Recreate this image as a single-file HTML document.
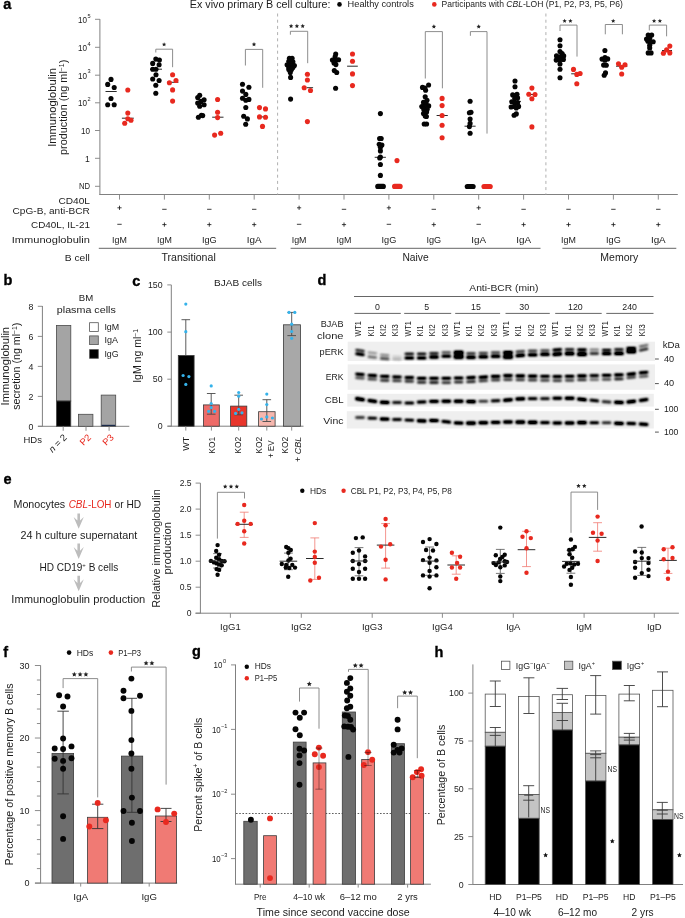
<!DOCTYPE html>
<html><head><meta charset="utf-8"><style>
html,body{margin:0;padding:0;background:#fff;}
svg{display:block;will-change:transform;font-family:"Liberation Sans", sans-serif;}
</style></head><body>
<svg width="685" height="918" viewBox="0 0 685 918">
<rect width="685" height="918" fill="#fff"/>
<text x="3.2" y="9" font-size="14.5" font-weight="bold" fill="#000" stroke="#000" stroke-width="0.35">a</text>
<text x="189.8" y="7.9" font-size="10" text-anchor="start" fill="#1c1c1c" textLength="140.7" lengthAdjust="spacingAndGlyphs">Ex vivo primary B cell culture:</text>
<circle cx="339.5" cy="4.4" r="2.3" fill="#050505"/>
<text x="347.6" y="7.2" font-size="8.6" text-anchor="start" fill="#1c1c1c" textLength="66.2" lengthAdjust="spacingAndGlyphs">Healthy controls</text>
<circle cx="434.3" cy="4.4" r="2.3" fill="#e8291f"/>
<text x="441.6" y="7.2" font-size="8.6" fill="#1c1c1c" textLength="181.3" lengthAdjust="spacingAndGlyphs">Participants with <tspan font-style="italic">CBL</tspan>-LOH (P1, P2, P3, P5, P6)</text>
<line x1="99.9" y1="19.1" x2="99.9" y2="195" stroke="#808080" stroke-width="1" />
<line x1="99.4" y1="194.5" x2="677.8" y2="194.5" stroke="#808080" stroke-width="1" />
<line x1="95" y1="19.3" x2="99.9" y2="19.3" stroke="#808080" stroke-width="0.9" />
<line x1="95" y1="47.3" x2="99.9" y2="47.3" stroke="#808080" stroke-width="0.9" />
<line x1="95" y1="75.2" x2="99.9" y2="75.2" stroke="#808080" stroke-width="0.9" />
<line x1="95" y1="102.8" x2="99.9" y2="102.8" stroke="#808080" stroke-width="0.9" />
<line x1="95" y1="130.5" x2="99.9" y2="130.5" stroke="#808080" stroke-width="0.9" />
<line x1="95" y1="158.3" x2="99.9" y2="158.3" stroke="#808080" stroke-width="0.9" />
<line x1="95" y1="186.3" x2="99.9" y2="186.3" stroke="#808080" stroke-width="0.9" />
<text x="86.9" y="22.6" font-size="8.6" text-anchor="end" fill="#1c1c1c" textLength="9" lengthAdjust="spacingAndGlyphs">10</text>
<text x="87.4" y="17.5" font-size="5.6" text-anchor="start" fill="#1c1c1c">5</text>
<text x="86.9" y="50.6" font-size="8.6" text-anchor="end" fill="#1c1c1c" textLength="9" lengthAdjust="spacingAndGlyphs">10</text>
<text x="87.4" y="45.5" font-size="5.6" text-anchor="start" fill="#1c1c1c">4</text>
<text x="86.9" y="78.5" font-size="8.6" text-anchor="end" fill="#1c1c1c" textLength="9" lengthAdjust="spacingAndGlyphs">10</text>
<text x="87.4" y="73.4" font-size="5.6" text-anchor="start" fill="#1c1c1c">3</text>
<text x="86.9" y="106.1" font-size="8.6" text-anchor="end" fill="#1c1c1c" textLength="9" lengthAdjust="spacingAndGlyphs">10</text>
<text x="87.4" y="101" font-size="5.6" text-anchor="start" fill="#1c1c1c">2</text>
<text x="89.9" y="133.7" font-size="8.6" text-anchor="end" fill="#1c1c1c" textLength="9" lengthAdjust="spacingAndGlyphs">10</text>
<text x="89.9" y="161.5" font-size="8.6" text-anchor="end" fill="#1c1c1c">1</text>
<text x="90.1" y="188.7" font-size="8.4" text-anchor="end" fill="#1c1c1c" textLength="11.1" lengthAdjust="spacingAndGlyphs">ND</text>
<text x="55.5" y="107.5" font-size="10.2" text-anchor="middle" fill="#1c1c1c" textLength="78.7" lengthAdjust="spacingAndGlyphs" transform="rotate(-90 55.5 107.5)">Immunoglobulin</text>
<text x="67.3" y="107.3" font-size="10.2" text-anchor="middle" fill="#1c1c1c" transform="rotate(-90 67.3 107.3)" textLength="95.3" lengthAdjust="spacingAndGlyphs">production (ng ml<tspan dy="-3.5" font-size="6.5">−1</tspan><tspan dy="3.5">)</tspan></text>
<line x1="277.6" y1="13.5" x2="277.6" y2="194.5" stroke="#b0b0b0" stroke-width="1" stroke-dasharray="3,3.2"/>
<line x1="545.9" y1="13.5" x2="545.9" y2="194.5" stroke="#b0b0b0" stroke-width="1" stroke-dasharray="3,3.2"/>
<line x1="119.5" y1="194.5" x2="119.5" y2="199.6" stroke="#808080" stroke-width="0.9" />
<line x1="164.4" y1="194.5" x2="164.4" y2="199.6" stroke="#808080" stroke-width="0.9" />
<line x1="209.3" y1="194.5" x2="209.3" y2="199.6" stroke="#808080" stroke-width="0.9" />
<line x1="254.2" y1="194.5" x2="254.2" y2="199.6" stroke="#808080" stroke-width="0.9" />
<line x1="299.1" y1="194.5" x2="299.1" y2="199.6" stroke="#808080" stroke-width="0.9" />
<line x1="344" y1="194.5" x2="344" y2="199.6" stroke="#808080" stroke-width="0.9" />
<line x1="388.9" y1="194.5" x2="388.9" y2="199.6" stroke="#808080" stroke-width="0.9" />
<line x1="433.8" y1="194.5" x2="433.8" y2="199.6" stroke="#808080" stroke-width="0.9" />
<line x1="478.7" y1="194.5" x2="478.7" y2="199.6" stroke="#808080" stroke-width="0.9" />
<line x1="523.6" y1="194.5" x2="523.6" y2="199.6" stroke="#808080" stroke-width="0.9" />
<line x1="568.5" y1="194.5" x2="568.5" y2="199.6" stroke="#808080" stroke-width="0.9" />
<line x1="613.4" y1="194.5" x2="613.4" y2="199.6" stroke="#808080" stroke-width="0.9" />
<line x1="658.3" y1="194.5" x2="658.3" y2="199.6" stroke="#808080" stroke-width="0.9" />
<text x="89.9" y="203.5" font-size="9.9" text-anchor="end" fill="#1c1c1c" textLength="31.5" lengthAdjust="spacingAndGlyphs">CD40L</text>
<text x="89.9" y="214" font-size="9.9" text-anchor="end" fill="#1c1c1c" textLength="77.3" lengthAdjust="spacingAndGlyphs">CpG-B, anti-BCR</text>
<text x="89.9" y="228.3" font-size="9.9" text-anchor="end" fill="#1c1c1c" textLength="58.9" lengthAdjust="spacingAndGlyphs">CD40L, IL-21</text>
<text x="89.9" y="242.6" font-size="9.9" text-anchor="end" fill="#1c1c1c" textLength="78.1" lengthAdjust="spacingAndGlyphs">Immunoglobulin</text>
<text x="89.9" y="260.7" font-size="9.9" text-anchor="end" fill="#1c1c1c" textLength="25.1" lengthAdjust="spacingAndGlyphs">B cell</text>
<line x1="117.4" y1="207.8" x2="121.6" y2="207.8" stroke="#1c1c1c" stroke-width="0.85" />
<line x1="119.5" y1="205.7" x2="119.5" y2="209.9" stroke="#1c1c1c" stroke-width="0.85" />
<line x1="117.3" y1="224.3" x2="121.7" y2="224.3" stroke="#1c1c1c" stroke-width="0.85" />
<text x="119.5" y="242.6" font-size="8.7" text-anchor="middle" fill="#1c1c1c" textLength="14.8" lengthAdjust="spacingAndGlyphs">IgM</text>
<line x1="162.2" y1="209.3" x2="166.6" y2="209.3" stroke="#1c1c1c" stroke-width="0.85" />
<line x1="162.3" y1="224.6" x2="166.5" y2="224.6" stroke="#1c1c1c" stroke-width="0.85" />
<line x1="164.4" y1="222.5" x2="164.4" y2="226.7" stroke="#1c1c1c" stroke-width="0.85" />
<text x="164.4" y="242.6" font-size="8.7" text-anchor="middle" fill="#1c1c1c" textLength="14.8" lengthAdjust="spacingAndGlyphs">IgM</text>
<line x1="207.1" y1="209.3" x2="211.5" y2="209.3" stroke="#1c1c1c" stroke-width="0.85" />
<line x1="207.2" y1="224.6" x2="211.4" y2="224.6" stroke="#1c1c1c" stroke-width="0.85" />
<line x1="209.3" y1="222.5" x2="209.3" y2="226.7" stroke="#1c1c1c" stroke-width="0.85" />
<text x="209.3" y="242.6" font-size="8.7" text-anchor="middle" fill="#1c1c1c" textLength="14.8" lengthAdjust="spacingAndGlyphs">IgG</text>
<line x1="252" y1="209.3" x2="256.4" y2="209.3" stroke="#1c1c1c" stroke-width="0.85" />
<line x1="252.1" y1="224.6" x2="256.3" y2="224.6" stroke="#1c1c1c" stroke-width="0.85" />
<line x1="254.2" y1="222.5" x2="254.2" y2="226.7" stroke="#1c1c1c" stroke-width="0.85" />
<text x="254.2" y="242.6" font-size="8.7" text-anchor="middle" fill="#1c1c1c" textLength="14.8" lengthAdjust="spacingAndGlyphs">IgA</text>
<line x1="297" y1="207.8" x2="301.2" y2="207.8" stroke="#1c1c1c" stroke-width="0.85" />
<line x1="299.1" y1="205.7" x2="299.1" y2="209.9" stroke="#1c1c1c" stroke-width="0.85" />
<line x1="296.9" y1="224.3" x2="301.3" y2="224.3" stroke="#1c1c1c" stroke-width="0.85" />
<text x="299.1" y="242.6" font-size="8.7" text-anchor="middle" fill="#1c1c1c" textLength="14.8" lengthAdjust="spacingAndGlyphs">IgM</text>
<line x1="341.8" y1="209.3" x2="346.2" y2="209.3" stroke="#1c1c1c" stroke-width="0.85" />
<line x1="341.9" y1="224.6" x2="346.1" y2="224.6" stroke="#1c1c1c" stroke-width="0.85" />
<line x1="344" y1="222.5" x2="344" y2="226.7" stroke="#1c1c1c" stroke-width="0.85" />
<text x="344" y="242.6" font-size="8.7" text-anchor="middle" fill="#1c1c1c" textLength="14.8" lengthAdjust="spacingAndGlyphs">IgM</text>
<line x1="386.8" y1="207.8" x2="391" y2="207.8" stroke="#1c1c1c" stroke-width="0.85" />
<line x1="388.9" y1="205.7" x2="388.9" y2="209.9" stroke="#1c1c1c" stroke-width="0.85" />
<line x1="386.7" y1="224.3" x2="391.1" y2="224.3" stroke="#1c1c1c" stroke-width="0.85" />
<text x="388.9" y="242.6" font-size="8.7" text-anchor="middle" fill="#1c1c1c" textLength="14.8" lengthAdjust="spacingAndGlyphs">IgG</text>
<line x1="431.6" y1="209.3" x2="436" y2="209.3" stroke="#1c1c1c" stroke-width="0.85" />
<line x1="431.7" y1="224.6" x2="435.9" y2="224.6" stroke="#1c1c1c" stroke-width="0.85" />
<line x1="433.8" y1="222.5" x2="433.8" y2="226.7" stroke="#1c1c1c" stroke-width="0.85" />
<text x="433.8" y="242.6" font-size="8.7" text-anchor="middle" fill="#1c1c1c" textLength="14.8" lengthAdjust="spacingAndGlyphs">IgG</text>
<line x1="476.6" y1="207.8" x2="480.8" y2="207.8" stroke="#1c1c1c" stroke-width="0.85" />
<line x1="478.7" y1="205.7" x2="478.7" y2="209.9" stroke="#1c1c1c" stroke-width="0.85" />
<line x1="476.5" y1="224.3" x2="480.9" y2="224.3" stroke="#1c1c1c" stroke-width="0.85" />
<text x="478.7" y="242.6" font-size="8.7" text-anchor="middle" fill="#1c1c1c" textLength="14.8" lengthAdjust="spacingAndGlyphs">IgA</text>
<line x1="521.4" y1="209.3" x2="525.8" y2="209.3" stroke="#1c1c1c" stroke-width="0.85" />
<line x1="521.5" y1="224.6" x2="525.7" y2="224.6" stroke="#1c1c1c" stroke-width="0.85" />
<line x1="523.6" y1="222.5" x2="523.6" y2="226.7" stroke="#1c1c1c" stroke-width="0.85" />
<text x="523.6" y="242.6" font-size="8.7" text-anchor="middle" fill="#1c1c1c" textLength="14.8" lengthAdjust="spacingAndGlyphs">IgA</text>
<line x1="566.3" y1="209.3" x2="570.7" y2="209.3" stroke="#1c1c1c" stroke-width="0.85" />
<line x1="566.4" y1="224.6" x2="570.6" y2="224.6" stroke="#1c1c1c" stroke-width="0.85" />
<line x1="568.5" y1="222.5" x2="568.5" y2="226.7" stroke="#1c1c1c" stroke-width="0.85" />
<text x="568.5" y="242.6" font-size="8.7" text-anchor="middle" fill="#1c1c1c" textLength="14.8" lengthAdjust="spacingAndGlyphs">IgM</text>
<line x1="611.2" y1="209.3" x2="615.6" y2="209.3" stroke="#1c1c1c" stroke-width="0.85" />
<line x1="611.3" y1="224.6" x2="615.5" y2="224.6" stroke="#1c1c1c" stroke-width="0.85" />
<line x1="613.4" y1="222.5" x2="613.4" y2="226.7" stroke="#1c1c1c" stroke-width="0.85" />
<text x="613.4" y="242.6" font-size="8.7" text-anchor="middle" fill="#1c1c1c" textLength="14.8" lengthAdjust="spacingAndGlyphs">IgG</text>
<line x1="656.1" y1="209.3" x2="660.5" y2="209.3" stroke="#1c1c1c" stroke-width="0.85" />
<line x1="656.2" y1="224.6" x2="660.4" y2="224.6" stroke="#1c1c1c" stroke-width="0.85" />
<line x1="658.3" y1="222.5" x2="658.3" y2="226.7" stroke="#1c1c1c" stroke-width="0.85" />
<text x="658.3" y="242.6" font-size="8.7" text-anchor="middle" fill="#1c1c1c" textLength="14.8" lengthAdjust="spacingAndGlyphs">IgA</text>
<line x1="98.8" y1="248.3" x2="276.2" y2="248.3" stroke="#555" stroke-width="0.9" />
<line x1="290.6" y1="248.3" x2="540.5" y2="248.3" stroke="#555" stroke-width="0.9" />
<line x1="562.4" y1="248.3" x2="676.3" y2="248.3" stroke="#555" stroke-width="0.9" />
<text x="188.6" y="260.7" font-size="10.3" text-anchor="middle" fill="#1c1c1c" textLength="54.3" lengthAdjust="spacingAndGlyphs">Transitional</text>
<text x="415.6" y="260.7" font-size="10.3" text-anchor="middle" fill="#1c1c1c" textLength="26.3" lengthAdjust="spacingAndGlyphs">Naive</text>
<text x="619.3" y="260.7" font-size="10.3" text-anchor="middle" fill="#1c1c1c" textLength="38" lengthAdjust="spacingAndGlyphs">Memory</text>
<circle cx="111" cy="79.4" r="2.55" fill="#050505"/>
<circle cx="107.7" cy="84.4" r="2.55" fill="#050505"/>
<circle cx="114.2" cy="87.5" r="2.55" fill="#050505"/>
<circle cx="111" cy="98.5" r="2.55" fill="#050505"/>
<circle cx="107.7" cy="104.7" r="2.55" fill="#050505"/>
<circle cx="114.2" cy="104.7" r="2.55" fill="#050505"/>
<line x1="105.5" y1="91.5" x2="116.7" y2="91.5" stroke="#2a2a2a" stroke-width="1" />
<line x1="121.9" y1="118.2" x2="133.8" y2="118.2" stroke="#2a2a2a" stroke-width="1" />
<circle cx="127.8" cy="90" r="2.55" fill="#e8291f"/>
<circle cx="127.8" cy="113.1" r="2.55" fill="#e8291f"/>
<circle cx="127.8" cy="118.7" r="2.55" fill="#e8291f"/>
<circle cx="131" cy="120.2" r="2.55" fill="#e8291f"/>
<circle cx="124.7" cy="123.2" r="2.55" fill="#e8291f"/>
<line x1="150" y1="69.2" x2="162" y2="69.2" stroke="#2a2a2a" stroke-width="1" />
<circle cx="155.8" cy="59.1" r="2.55" fill="#050505"/>
<circle cx="159.4" cy="60" r="2.55" fill="#050505"/>
<circle cx="152.7" cy="63.4" r="2.55" fill="#050505"/>
<circle cx="159.1" cy="64.7" r="2.55" fill="#050505"/>
<circle cx="152.7" cy="69.2" r="2.55" fill="#050505"/>
<circle cx="156" cy="69.2" r="2.55" fill="#050505"/>
<circle cx="156" cy="74.7" r="2.55" fill="#050505"/>
<circle cx="152.7" cy="79" r="2.55" fill="#050505"/>
<circle cx="159.1" cy="80.5" r="2.55" fill="#050505"/>
<circle cx="155.8" cy="85.3" r="2.55" fill="#050505"/>
<circle cx="155.8" cy="93.2" r="2.55" fill="#050505"/>
<line x1="167" y1="82.3" x2="178.4" y2="82.3" stroke="#2a2a2a" stroke-width="1" />
<circle cx="172.6" cy="74.8" r="2.55" fill="#e8291f"/>
<circle cx="176" cy="80.5" r="2.55" fill="#e8291f"/>
<circle cx="169.4" cy="82.7" r="2.55" fill="#e8291f"/>
<circle cx="172.6" cy="89.9" r="2.55" fill="#e8291f"/>
<circle cx="172.6" cy="101.1" r="2.55" fill="#e8291f"/>
<polyline points="155.8,52.5 155.8,49.2 172.6,49.2 172.6,67.2" stroke="#808080" stroke-width="0.9" fill="none"/>
<polygon points="164.1,42.2 164.74,43.63 166.29,43.79 165.13,44.83 165.45,46.36 164.1,45.58 162.75,46.36 163.07,44.83 161.91,43.79 163.46,43.63" fill="#222"/>
<circle cx="199.7" cy="95.2" r="2.55" fill="#050505"/>
<circle cx="197.7" cy="97.5" r="2.55" fill="#050505"/>
<circle cx="204.1" cy="99.7" r="2.55" fill="#050505"/>
<circle cx="200.8" cy="101.4" r="2.55" fill="#050505"/>
<circle cx="197.7" cy="103.1" r="2.55" fill="#050505"/>
<circle cx="204.1" cy="104.7" r="2.55" fill="#050505"/>
<circle cx="199.7" cy="106.3" r="2.55" fill="#050505"/>
<circle cx="201.4" cy="115.2" r="2.55" fill="#050505"/>
<circle cx="198.4" cy="117.2" r="2.55" fill="#050505"/>
<circle cx="202.7" cy="115.6" r="2.55" fill="#050505"/>
<line x1="212.2" y1="117.2" x2="223.5" y2="117.2" stroke="#2a2a2a" stroke-width="1" />
<circle cx="217.6" cy="99.5" r="2.55" fill="#e8291f"/>
<circle cx="217.6" cy="112.3" r="2.55" fill="#e8291f"/>
<circle cx="217.6" cy="117.6" r="2.55" fill="#e8291f"/>
<circle cx="220.7" cy="133.2" r="2.55" fill="#e8291f"/>
<circle cx="214.6" cy="135.1" r="2.55" fill="#e8291f"/>
<circle cx="242.5" cy="84.3" r="2.55" fill="#050505"/>
<circle cx="248.9" cy="87.2" r="2.55" fill="#050505"/>
<circle cx="242.5" cy="91.1" r="2.55" fill="#050505"/>
<circle cx="245.8" cy="94.4" r="2.55" fill="#050505"/>
<circle cx="242.5" cy="98.3" r="2.55" fill="#050505"/>
<circle cx="248.9" cy="99.4" r="2.55" fill="#050505"/>
<circle cx="245.8" cy="100.3" r="2.55" fill="#050505"/>
<circle cx="245.8" cy="107.5" r="2.55" fill="#050505"/>
<circle cx="243.7" cy="116.3" r="2.55" fill="#050505"/>
<circle cx="247.4" cy="118.9" r="2.55" fill="#050505"/>
<circle cx="245.7" cy="124.2" r="2.55" fill="#050505"/>
<line x1="257" y1="116.9" x2="267" y2="116.9" stroke="#2a2a2a" stroke-width="1" />
<circle cx="259.5" cy="107.6" r="2.55" fill="#e8291f"/>
<circle cx="265.5" cy="108.9" r="2.55" fill="#e8291f"/>
<circle cx="259.5" cy="116.9" r="2.55" fill="#e8291f"/>
<circle cx="265.5" cy="117.2" r="2.55" fill="#e8291f"/>
<circle cx="262.5" cy="126.4" r="2.55" fill="#e8291f"/>
<polyline points="245.4,65.5 245.4,49.4 262.7,49.4 262.7,87.8" stroke="#808080" stroke-width="0.9" fill="none"/>
<polygon points="254,42.1 254.64,43.53 256.19,43.69 255.03,44.73 255.35,46.26 254,45.48 252.65,46.26 252.97,44.73 251.81,43.69 253.36,43.53" fill="#222"/>
<circle cx="289.4" cy="58.2" r="2.55" fill="#050505"/>
<circle cx="292.1" cy="58.2" r="2.55" fill="#050505"/>
<circle cx="288.8" cy="61.2" r="2.55" fill="#050505"/>
<circle cx="292.9" cy="61.8" r="2.55" fill="#050505"/>
<circle cx="290.6" cy="63.5" r="2.55" fill="#050505"/>
<circle cx="287.1" cy="64.7" r="2.55" fill="#050505"/>
<circle cx="294.4" cy="65.6" r="2.55" fill="#050505"/>
<circle cx="290.6" cy="66" r="2.55" fill="#050505"/>
<circle cx="288.8" cy="67.6" r="2.55" fill="#050505"/>
<circle cx="292.9" cy="67.6" r="2.55" fill="#050505"/>
<circle cx="288.8" cy="69.4" r="2.55" fill="#050505"/>
<circle cx="291.5" cy="69.4" r="2.55" fill="#050505"/>
<circle cx="290.3" cy="72.6" r="2.55" fill="#050505"/>
<circle cx="290.6" cy="77.4" r="2.55" fill="#050505"/>
<circle cx="290.6" cy="99.1" r="2.55" fill="#050505"/>
<line x1="306.8" y1="87.7" x2="313.1" y2="87.7" stroke="#2a2a2a" stroke-width="1" />
<circle cx="307.4" cy="74.3" r="2.55" fill="#e8291f"/>
<circle cx="307.4" cy="80" r="2.55" fill="#e8291f"/>
<circle cx="304.2" cy="87.7" r="2.55" fill="#e8291f"/>
<circle cx="310.5" cy="90.5" r="2.55" fill="#e8291f"/>
<circle cx="307.4" cy="121.6" r="2.55" fill="#e8291f"/>
<polyline points="290.4,34.7 290.4,31.3 307.7,31.3 307.7,63.2" stroke="#808080" stroke-width="0.9" fill="none"/>
<polygon points="291.1,23.8 291.74,25.23 293.29,25.39 292.13,26.43 292.45,27.96 291.1,27.18 289.75,27.96 290.07,26.43 288.91,25.39 290.46,25.23" fill="#222"/>
<polygon points="296.9,23.8 297.54,25.23 299.09,25.39 297.93,26.43 298.25,27.96 296.9,27.18 295.55,27.96 295.87,26.43 294.71,25.39 296.26,25.23" fill="#222"/>
<polygon points="302.7,23.8 303.34,25.23 304.89,25.39 303.73,26.43 304.05,27.96 302.7,27.18 301.35,27.96 301.67,26.43 300.51,25.39 302.06,25.23" fill="#222"/>
<circle cx="335.7" cy="54" r="2.55" fill="#050505"/>
<circle cx="335.1" cy="56.7" r="2.55" fill="#050505"/>
<circle cx="332.4" cy="60" r="2.55" fill="#050505"/>
<circle cx="338.6" cy="59.7" r="2.55" fill="#050505"/>
<circle cx="335.4" cy="60.8" r="2.55" fill="#050505"/>
<circle cx="334" cy="63" r="2.55" fill="#050505"/>
<circle cx="335.9" cy="64.6" r="2.55" fill="#050505"/>
<circle cx="334.3" cy="70.6" r="2.55" fill="#050505"/>
<circle cx="336.7" cy="72.5" r="2.55" fill="#050505"/>
<circle cx="335.6" cy="88.3" r="2.55" fill="#050505"/>
<line x1="347.1" y1="66.2" x2="357.8" y2="66.2" stroke="#2a2a2a" stroke-width="1" />
<circle cx="352.5" cy="54" r="2.55" fill="#e8291f"/>
<circle cx="352.5" cy="61.3" r="2.55" fill="#e8291f"/>
<circle cx="352.5" cy="73.9" r="2.55" fill="#e8291f"/>
<circle cx="352.5" cy="85.6" r="2.55" fill="#e8291f"/>
<line x1="374.7" y1="157.3" x2="385.9" y2="157.3" stroke="#2a2a2a" stroke-width="1" />
<circle cx="380.4" cy="113.6" r="2.55" fill="#050505"/>
<circle cx="379.6" cy="138.5" r="2.55" fill="#050505"/>
<circle cx="381.2" cy="138.5" r="2.55" fill="#050505"/>
<circle cx="379.2" cy="144.2" r="2.55" fill="#050505"/>
<circle cx="381.9" cy="145" r="2.55" fill="#050505"/>
<circle cx="380.4" cy="147.2" r="2.55" fill="#050505"/>
<circle cx="380.4" cy="150.9" r="2.55" fill="#050505"/>
<circle cx="380.4" cy="157" r="2.55" fill="#050505"/>
<circle cx="379.7" cy="158" r="2.55" fill="#050505"/>
<circle cx="380.4" cy="164.5" r="2.55" fill="#050505"/>
<circle cx="380.4" cy="175.4" r="2.55" fill="#050505"/>
<line x1="377.75" y1="186.4" x2="383.35" y2="186.4" stroke="#050505" stroke-width="5.1" stroke-linecap="round"/>
<circle cx="397" cy="160.6" r="2.55" fill="#e8291f"/>
<line x1="394.55" y1="186.4" x2="400.15" y2="186.4" stroke="#e8291f" stroke-width="5.1" stroke-linecap="round"/>
<line x1="419.8" y1="106.3" x2="431" y2="106.3" stroke="#2a2a2a" stroke-width="1" />
<circle cx="422.5" cy="87.4" r="2.55" fill="#050505"/>
<circle cx="424.9" cy="88.1" r="2.55" fill="#050505"/>
<circle cx="425.6" cy="90.2" r="2.55" fill="#050505"/>
<circle cx="428.6" cy="85" r="2.55" fill="#050505"/>
<circle cx="425.2" cy="96.7" r="2.55" fill="#050505"/>
<circle cx="427" cy="100.3" r="2.55" fill="#050505"/>
<circle cx="423.5" cy="102.4" r="2.55" fill="#050505"/>
<circle cx="426" cy="103.6" r="2.55" fill="#050505"/>
<circle cx="421.8" cy="106.6" r="2.55" fill="#050505"/>
<circle cx="428.7" cy="105.9" r="2.55" fill="#050505"/>
<circle cx="424.9" cy="107.3" r="2.55" fill="#050505"/>
<circle cx="423.8" cy="109.4" r="2.55" fill="#050505"/>
<circle cx="427.2" cy="109.2" r="2.55" fill="#050505"/>
<circle cx="426.6" cy="112.1" r="2.55" fill="#050505"/>
<circle cx="423.5" cy="113.5" r="2.55" fill="#050505"/>
<circle cx="425.2" cy="116" r="2.55" fill="#050505"/>
<circle cx="426.4" cy="116.5" r="2.55" fill="#050505"/>
<circle cx="424.2" cy="124" r="2.55" fill="#050505"/>
<circle cx="426.6" cy="124" r="2.55" fill="#050505"/>
<line x1="436.6" y1="115.5" x2="447.8" y2="115.5" stroke="#2a2a2a" stroke-width="1" />
<circle cx="442.1" cy="98.4" r="2.55" fill="#e8291f"/>
<circle cx="442.1" cy="105.6" r="2.55" fill="#e8291f"/>
<circle cx="442.1" cy="115.5" r="2.55" fill="#e8291f"/>
<circle cx="442.1" cy="125.3" r="2.55" fill="#e8291f"/>
<circle cx="442.1" cy="137.8" r="2.55" fill="#e8291f"/>
<polyline points="425.3,78.5 425.3,31.6 442.4,31.6 442.4,88.3" stroke="#808080" stroke-width="0.9" fill="none"/>
<polygon points="433.9,24.3 434.54,25.73 436.09,25.89 434.93,26.93 435.25,28.46 433.9,27.68 432.55,28.46 432.87,26.93 431.71,25.89 433.26,25.73" fill="#222"/>
<line x1="464.5" y1="126.2" x2="475.6" y2="126.2" stroke="#2a2a2a" stroke-width="1" />
<circle cx="470.1" cy="101.3" r="2.55" fill="#050505"/>
<circle cx="469.4" cy="112.8" r="2.55" fill="#050505"/>
<circle cx="471" cy="112.2" r="2.55" fill="#050505"/>
<circle cx="470.1" cy="119" r="2.55" fill="#050505"/>
<circle cx="470.1" cy="123.4" r="2.55" fill="#050505"/>
<circle cx="469.4" cy="126.6" r="2.55" fill="#050505"/>
<circle cx="470.1" cy="133.2" r="2.55" fill="#050505"/>
<line x1="467.25" y1="186.5" x2="473.15" y2="186.5" stroke="#050505" stroke-width="5.1" stroke-linecap="round"/>
<line x1="483.95" y1="186.5" x2="490.25" y2="186.5" stroke="#e8291f" stroke-width="5.1" stroke-linecap="round"/>
<polyline points="470.4,35.8 470.4,31.6 487,31.6 487,133.6" stroke="#808080" stroke-width="0.9" fill="none"/>
<polygon points="478.7,24.3 479.34,25.73 480.89,25.89 479.73,26.93 480.05,28.46 478.7,27.68 477.35,28.46 477.67,26.93 476.51,25.89 478.06,25.73" fill="#222"/>
<line x1="509.8" y1="101.4" x2="521" y2="101.4" stroke="#2a2a2a" stroke-width="1" />
<circle cx="515" cy="81" r="2.55" fill="#050505"/>
<circle cx="515" cy="86.8" r="2.55" fill="#050505"/>
<circle cx="512.7" cy="94.9" r="2.55" fill="#050505"/>
<circle cx="517" cy="94.3" r="2.55" fill="#050505"/>
<circle cx="515" cy="95.9" r="2.55" fill="#050505"/>
<circle cx="517.6" cy="97.9" r="2.55" fill="#050505"/>
<circle cx="514.7" cy="98.5" r="2.55" fill="#050505"/>
<circle cx="511.8" cy="101.8" r="2.55" fill="#050505"/>
<circle cx="517.6" cy="102.5" r="2.55" fill="#050505"/>
<circle cx="514.7" cy="103.1" r="2.55" fill="#050505"/>
<circle cx="511.1" cy="107" r="2.55" fill="#050505"/>
<circle cx="514.4" cy="106.4" r="2.55" fill="#050505"/>
<circle cx="518.6" cy="106.4" r="2.55" fill="#050505"/>
<circle cx="516.3" cy="108" r="2.55" fill="#050505"/>
<circle cx="514.1" cy="115.2" r="2.55" fill="#050505"/>
<circle cx="516.3" cy="113.9" r="2.55" fill="#050505"/>
<line x1="527" y1="94.5" x2="537" y2="94.5" stroke="#2a2a2a" stroke-width="1" />
<circle cx="531.9" cy="88.1" r="2.55" fill="#e8291f"/>
<circle cx="528.8" cy="94.2" r="2.55" fill="#e8291f"/>
<circle cx="535" cy="94.5" r="2.55" fill="#e8291f"/>
<circle cx="531.9" cy="98.8" r="2.55" fill="#e8291f"/>
<circle cx="531.9" cy="126.9" r="2.55" fill="#e8291f"/>
<circle cx="560" cy="39.8" r="2.55" fill="#050505"/>
<circle cx="560" cy="45.7" r="2.55" fill="#050505"/>
<circle cx="560" cy="51.6" r="2.55" fill="#050505"/>
<circle cx="562.1" cy="53.6" r="2.55" fill="#050505"/>
<circle cx="556.5" cy="55.9" r="2.55" fill="#050505"/>
<circle cx="563.7" cy="55.9" r="2.55" fill="#050505"/>
<circle cx="560" cy="56.8" r="2.55" fill="#050505"/>
<circle cx="556.2" cy="60.1" r="2.55" fill="#050505"/>
<circle cx="563.4" cy="59.5" r="2.55" fill="#050505"/>
<circle cx="559.8" cy="60.1" r="2.55" fill="#050505"/>
<circle cx="560" cy="64" r="2.55" fill="#050505"/>
<circle cx="560" cy="69.3" r="2.55" fill="#050505"/>
<circle cx="560" cy="77.8" r="2.55" fill="#050505"/>
<line x1="571.2" y1="73.8" x2="576" y2="73.8" stroke="#2a2a2a" stroke-width="1" />
<circle cx="573.5" cy="69.4" r="2.55" fill="#e8291f"/>
<circle cx="576.8" cy="74.4" r="2.55" fill="#e8291f"/>
<circle cx="580.1" cy="73.5" r="2.55" fill="#e8291f"/>
<circle cx="576.8" cy="83.8" r="2.55" fill="#e8291f"/>
<polyline points="560,31 560,25.1 577,25.1 577,56.6" stroke="#808080" stroke-width="0.9" fill="none"/>
<polygon points="564.6,18.7 565.24,20.13 566.79,20.29 565.63,21.33 565.95,22.86 564.6,22.08 563.25,22.86 563.57,21.33 562.41,20.29 563.96,20.13" fill="#222"/>
<polygon points="570.4,18.7 571.04,20.13 572.59,20.29 571.43,21.33 571.75,22.86 570.4,22.08 569.05,22.86 569.37,21.33 568.21,20.29 569.76,20.13" fill="#222"/>
<circle cx="604.9" cy="50.5" r="2.55" fill="#050505"/>
<circle cx="602" cy="59.1" r="2.55" fill="#050505"/>
<circle cx="607.7" cy="58.9" r="2.55" fill="#050505"/>
<circle cx="605" cy="57.5" r="2.55" fill="#050505"/>
<circle cx="605" cy="60.2" r="2.55" fill="#050505"/>
<circle cx="603.6" cy="65.1" r="2.55" fill="#050505"/>
<circle cx="606.3" cy="65.3" r="2.55" fill="#050505"/>
<circle cx="605.5" cy="72.9" r="2.55" fill="#050505"/>
<circle cx="604.2" cy="75.3" r="2.55" fill="#050505"/>
<line x1="616" y1="66.2" x2="627.4" y2="66.2" stroke="#2a2a2a" stroke-width="1" />
<circle cx="618.5" cy="63.7" r="2.55" fill="#e8291f"/>
<circle cx="625" cy="64.8" r="2.55" fill="#e8291f"/>
<circle cx="621.7" cy="67.2" r="2.55" fill="#e8291f"/>
<circle cx="621.7" cy="74" r="2.55" fill="#e8291f"/>
<polyline points="605.3,34.3 605.3,24.5 622.4,24.5 622.4,34.3" stroke="#808080" stroke-width="0.9" fill="none"/>
<polygon points="613.2,18.7 613.84,20.13 615.39,20.29 614.23,21.33 614.55,22.86 613.2,22.08 611.85,22.86 612.17,21.33 611.01,20.29 612.56,20.13" fill="#222"/>
<circle cx="648.2" cy="35.1" r="2.55" fill="#050505"/>
<circle cx="651.7" cy="35.1" r="2.55" fill="#050505"/>
<circle cx="646.5" cy="39.1" r="2.55" fill="#050505"/>
<circle cx="649.7" cy="38.3" r="2.55" fill="#050505"/>
<circle cx="647.9" cy="41.2" r="2.55" fill="#050505"/>
<circle cx="653.2" cy="41.8" r="2.55" fill="#050505"/>
<circle cx="650.3" cy="42.4" r="2.55" fill="#050505"/>
<circle cx="649.7" cy="45.3" r="2.55" fill="#050505"/>
<circle cx="649.7" cy="47.9" r="2.55" fill="#050505"/>
<circle cx="648.2" cy="52.9" r="2.55" fill="#050505"/>
<circle cx="651.1" cy="52.9" r="2.55" fill="#050505"/>
<line x1="662" y1="50.5" x2="672" y2="50.5" stroke="#2a2a2a" stroke-width="1" />
<circle cx="669.8" cy="46.1" r="2.55" fill="#e8291f"/>
<circle cx="666.6" cy="49.9" r="2.55" fill="#e8291f"/>
<circle cx="663.4" cy="53.2" r="2.55" fill="#e8291f"/>
<circle cx="669.8" cy="52.9" r="2.55" fill="#e8291f"/>
<polyline points="649.3,30.4 649.3,25.1 666.6,25.1 666.6,36.3" stroke="#808080" stroke-width="0.9" fill="none"/>
<polygon points="654.1,18.7 654.74,20.13 656.29,20.29 655.13,21.33 655.45,22.86 654.1,22.08 652.75,22.86 653.07,21.33 651.91,20.29 653.46,20.13" fill="#222"/>
<polygon points="659.9,18.7 660.54,20.13 662.09,20.29 660.93,21.33 661.25,22.86 659.9,22.08 658.55,22.86 658.87,21.33 657.71,20.29 659.26,20.13" fill="#222"/>
<text x="3.4" y="284.9" font-size="14.5" font-weight="bold" fill="#000" stroke="#000" stroke-width="0.35">b</text>
<line x1="42.4" y1="306" x2="42.4" y2="426.4" stroke="#808080" stroke-width="1" />
<line x1="38" y1="426.3" x2="129.3" y2="426.3" stroke="#808080" stroke-width="1" />
<line x1="37.8" y1="306.3" x2="42.4" y2="306.3" stroke="#808080" stroke-width="0.9" />
<text x="33.3" y="309.5" font-size="8.8" text-anchor="end" fill="#1c1c1c">8</text>
<line x1="37.8" y1="336.4" x2="42.4" y2="336.4" stroke="#808080" stroke-width="0.9" />
<text x="33.3" y="339.6" font-size="8.8" text-anchor="end" fill="#1c1c1c">6</text>
<line x1="37.8" y1="366.4" x2="42.4" y2="366.4" stroke="#808080" stroke-width="0.9" />
<text x="33.3" y="369.6" font-size="8.8" text-anchor="end" fill="#1c1c1c">4</text>
<line x1="37.8" y1="396.4" x2="42.4" y2="396.4" stroke="#808080" stroke-width="0.9" />
<text x="33.3" y="399.6" font-size="8.8" text-anchor="end" fill="#1c1c1c">2</text>
<line x1="37.8" y1="426.3" x2="42.4" y2="426.3" stroke="#808080" stroke-width="0.9" />
<text x="33.3" y="429.5" font-size="8.8" text-anchor="end" fill="#1c1c1c">0</text>
<text x="8.6" y="366.2" font-size="10.2" text-anchor="middle" fill="#1c1c1c" textLength="78.5" lengthAdjust="spacingAndGlyphs" transform="rotate(-90 8.6 366.2)">Immunoglobulin</text>
<text x="20.3" y="366.2" font-size="10.2" text-anchor="middle" fill="#1c1c1c" transform="rotate(-90 20.3 366.2)" textLength="87.1" lengthAdjust="spacingAndGlyphs">secretion (ng ml<tspan dy="-3.5" font-size="6.5">−1</tspan><tspan dy="3.5">)</tspan></text>
<rect x="56.4" y="325.5" width="14.4" height="75.5" fill="#a4a4a4" stroke="#4a4a4a" stroke-width="0.8"/>
<rect x="56.4" y="401" width="14.4" height="25.3" fill="#000" stroke="#4a4a4a" stroke-width="0.8"/>
<rect x="78.4" y="414.3" width="14.5" height="12" fill="#a4a4a4" stroke="#4a4a4a" stroke-width="0.8"/>
<rect x="101.2" y="395.1" width="14.5" height="31.2" fill="#a4a4a4" stroke="#4a4a4a" stroke-width="0.8"/>
<line x1="101.6" y1="425.4" x2="115.3" y2="425.4" stroke="#1a2a4a" stroke-width="1.2" />
<line x1="63.2" y1="426.3" x2="63.2" y2="430.8" stroke="#808080" stroke-width="0.9" />
<line x1="86" y1="426.3" x2="86" y2="430.8" stroke="#808080" stroke-width="0.9" />
<line x1="109.1" y1="426.3" x2="109.1" y2="430.8" stroke="#808080" stroke-width="0.9" />
<rect x="89.6" y="322.7" width="8.7" height="8.7" fill="#fff" stroke="#555" stroke-width="0.8"/>
<rect x="89.6" y="335.9" width="8.7" height="8.7" fill="#a4a4a4" stroke="#555" stroke-width="0.8"/>
<rect x="89.6" y="349.6" width="8.7" height="8.7" fill="#000" stroke="#555" stroke-width="0.8"/>
<text x="104.4" y="329.8" font-size="9" text-anchor="start" fill="#1c1c1c" textLength="14.8" lengthAdjust="spacingAndGlyphs">IgM</text>
<text x="104.4" y="343.2" font-size="9" text-anchor="start" fill="#1c1c1c" textLength="13.5" lengthAdjust="spacingAndGlyphs">IgA</text>
<text x="104.4" y="357.1" font-size="9" text-anchor="start" fill="#1c1c1c" textLength="14.2" lengthAdjust="spacingAndGlyphs">IgG</text>
<text x="86" y="300.8" font-size="9" text-anchor="middle" fill="#1c1c1c" textLength="14.4" lengthAdjust="spacingAndGlyphs">BM</text>
<text x="86.3" y="313" font-size="9.4" text-anchor="middle" fill="#1c1c1c" textLength="59" lengthAdjust="spacingAndGlyphs">plasma cells</text>
<text x="23.5" y="442.7" font-size="9.4" text-anchor="start" fill="#1c1c1c" textLength="18.5" lengthAdjust="spacingAndGlyphs">HDs</text>
<text x="67.4" y="438.0" font-size="9.4" text-anchor="end" fill="#1c1c1c" transform="rotate(-45 67.4 438.0)"><tspan font-style="italic">n</tspan> = 2</text>
<text x="91.6" y="438" font-size="9.4" text-anchor="end" fill="#e8291f" transform="rotate(-45 91.6 438)">P2</text>
<text x="114.4" y="438" font-size="9.4" text-anchor="end" fill="#e8291f" transform="rotate(-45 114.4 438)">P3</text>
<text x="132.2" y="285.5" font-size="14.5" font-weight="bold" fill="#000" stroke="#000" stroke-width="0.35">c</text>
<line x1="171.3" y1="284.9" x2="171.3" y2="426.4" stroke="#808080" stroke-width="1" />
<line x1="167.5" y1="426.2" x2="303.5" y2="426.2" stroke="#808080" stroke-width="1" />
<line x1="167.3" y1="284.9" x2="171.3" y2="284.9" stroke="#808080" stroke-width="0.9" />
<text x="162.6" y="288.1" font-size="8.8" text-anchor="end" fill="#1c1c1c">150</text>
<line x1="167.3" y1="332.1" x2="171.3" y2="332.1" stroke="#808080" stroke-width="0.9" />
<text x="162.6" y="335.3" font-size="8.8" text-anchor="end" fill="#1c1c1c">100</text>
<line x1="167.3" y1="379.2" x2="171.3" y2="379.2" stroke="#808080" stroke-width="0.9" />
<text x="162.6" y="382.4" font-size="8.8" text-anchor="end" fill="#1c1c1c">50</text>
<line x1="167.3" y1="426.2" x2="171.3" y2="426.2" stroke="#808080" stroke-width="0.9" />
<text x="162.6" y="429.4" font-size="8.8" text-anchor="end" fill="#1c1c1c">0</text>
<text x="141.5" y="355.9" font-size="10" text-anchor="middle" fill="#1c1c1c" transform="rotate(-90 141.5 355.9)" textLength="53.8" lengthAdjust="spacingAndGlyphs">IgM ng ml<tspan dy="-3.5" font-size="6.5">−1</tspan></text>
<text x="214.1" y="286.1" font-size="9.4" text-anchor="start" fill="#1c1c1c" textLength="48" lengthAdjust="spacingAndGlyphs">BJAB cells</text>
<rect x="178.3" y="355.5" width="15.8" height="70.7" fill="#000" stroke="#3a3a3a" stroke-width="0.8"/>
<rect x="203.4" y="404.9" width="15.9" height="21.3" fill="#ee6b68" stroke="#3a3a3a" stroke-width="0.8"/>
<rect x="230.6" y="406.1" width="16.2" height="20.1" fill="#e8352b" stroke="#3a3a3a" stroke-width="0.8"/>
<rect x="258.6" y="411.7" width="16.5" height="14.5" fill="#f6b7ae" stroke="#3a3a3a" stroke-width="0.8"/>
<rect x="283.4" y="324.8" width="17" height="101.4" fill="#a8a8a8" stroke="#3a3a3a" stroke-width="0.8"/>
<line x1="185.8" y1="319.7" x2="185.8" y2="355.5" stroke="#4a4a4a" stroke-width="0.9" />
<line x1="181.5" y1="319.7" x2="190.1" y2="319.7" stroke="#4a4a4a" stroke-width="0.9" />
<line x1="181.5" y1="355.5" x2="190.1" y2="355.5" stroke="#4a4a4a" stroke-width="0.9" />
<line x1="211.2" y1="393.5" x2="211.2" y2="414.2" stroke="#4a4a4a" stroke-width="0.9" />
<line x1="206.9" y1="393.5" x2="215.5" y2="393.5" stroke="#4a4a4a" stroke-width="0.9" />
<line x1="206.9" y1="414.2" x2="215.5" y2="414.2" stroke="#4a4a4a" stroke-width="0.9" />
<line x1="238.7" y1="395.2" x2="238.7" y2="414.8" stroke="#4a4a4a" stroke-width="0.9" />
<line x1="234.4" y1="395.2" x2="243" y2="395.2" stroke="#4a4a4a" stroke-width="0.9" />
<line x1="234.4" y1="414.8" x2="243" y2="414.8" stroke="#4a4a4a" stroke-width="0.9" />
<line x1="266.8" y1="399.7" x2="266.8" y2="421.5" stroke="#4a4a4a" stroke-width="0.9" />
<line x1="262.5" y1="399.7" x2="271.1" y2="399.7" stroke="#4a4a4a" stroke-width="0.9" />
<line x1="262.5" y1="421.5" x2="271.1" y2="421.5" stroke="#4a4a4a" stroke-width="0.9" />
<line x1="291.7" y1="312.4" x2="291.7" y2="335.6" stroke="#4a4a4a" stroke-width="0.9" />
<line x1="287.4" y1="312.4" x2="296" y2="312.4" stroke="#4a4a4a" stroke-width="0.9" />
<line x1="287.4" y1="335.6" x2="296" y2="335.6" stroke="#4a4a4a" stroke-width="0.9" />
<circle cx="185.8" cy="304.1" r="1.6" fill="#35b2ea"/>
<circle cx="185.8" cy="331.7" r="1.6" fill="#35b2ea"/>
<circle cx="183.1" cy="375.5" r="1.6" fill="#35b2ea"/>
<circle cx="188.9" cy="376.6" r="1.6" fill="#35b2ea"/>
<circle cx="185.8" cy="384.4" r="1.6" fill="#35b2ea"/>
<circle cx="211.2" cy="385.9" r="1.6" fill="#35b2ea"/>
<circle cx="211.2" cy="403.5" r="1.6" fill="#35b2ea"/>
<circle cx="211.2" cy="407.6" r="1.6" fill="#35b2ea"/>
<circle cx="208.6" cy="411.3" r="1.6" fill="#35b2ea"/>
<circle cx="214.6" cy="411.3" r="1.6" fill="#35b2ea"/>
<circle cx="238.7" cy="392.5" r="1.6" fill="#35b2ea"/>
<circle cx="238.7" cy="396.2" r="1.6" fill="#35b2ea"/>
<circle cx="238.7" cy="409.3" r="1.6" fill="#35b2ea"/>
<circle cx="235.6" cy="413.4" r="1.6" fill="#35b2ea"/>
<circle cx="242" cy="412.8" r="1.6" fill="#35b2ea"/>
<circle cx="266.8" cy="394.1" r="1.6" fill="#35b2ea"/>
<circle cx="266.8" cy="404.5" r="1.6" fill="#35b2ea"/>
<circle cx="261.5" cy="419" r="1.6" fill="#35b2ea"/>
<circle cx="266.8" cy="416.9" r="1.6" fill="#35b2ea"/>
<circle cx="272.4" cy="418" r="1.6" fill="#35b2ea"/>
<circle cx="289" cy="312.4" r="1.6" fill="#35b2ea"/>
<circle cx="294.8" cy="312.4" r="1.6" fill="#35b2ea"/>
<circle cx="291.7" cy="324.2" r="1.6" fill="#35b2ea"/>
<circle cx="291.7" cy="331.5" r="1.6" fill="#35b2ea"/>
<circle cx="291.7" cy="338.3" r="1.6" fill="#35b2ea"/>
<line x1="185.8" y1="426.2" x2="185.8" y2="430.6" stroke="#808080" stroke-width="0.9" />
<line x1="211.4" y1="426.2" x2="211.4" y2="430.6" stroke="#808080" stroke-width="0.9" />
<line x1="238.7" y1="426.2" x2="238.7" y2="430.6" stroke="#808080" stroke-width="0.9" />
<line x1="266.8" y1="426.2" x2="266.8" y2="430.6" stroke="#808080" stroke-width="0.9" />
<line x1="291.7" y1="426.2" x2="291.7" y2="430.6" stroke="#808080" stroke-width="0.9" />
<text x="188.7" y="436.8" font-size="9.3" text-anchor="end" fill="#1c1c1c" transform="rotate(-90 188.7 436.8)" textLength="13.9" lengthAdjust="spacingAndGlyphs">WT</text>
<text x="214.6" y="436.8" font-size="9.3" text-anchor="end" fill="#1c1c1c" transform="rotate(-90 214.6 436.8)" textLength="16.9" lengthAdjust="spacingAndGlyphs">KO1</text>
<text x="241.2" y="436.8" font-size="9.3" text-anchor="end" fill="#1c1c1c" transform="rotate(-90 241.2 436.8)" textLength="16.9" lengthAdjust="spacingAndGlyphs">KO2</text>
<text x="261.8" y="436.8" font-size="9.3" text-anchor="end" fill="#1c1c1c" transform="rotate(-90 261.8 436.8)" textLength="16.9" lengthAdjust="spacingAndGlyphs">KO2</text>
<text x="274.4" y="440.4" font-size="9.3" text-anchor="end" fill="#1c1c1c" transform="rotate(-90 274.4 440.4)" textLength="17.7" lengthAdjust="spacingAndGlyphs">+ EV</text>
<text x="288.2" y="436.8" font-size="9.3" text-anchor="end" fill="#1c1c1c" transform="rotate(-90 288.2 436.8)" textLength="16.9" lengthAdjust="spacingAndGlyphs">KO2</text>
<text x="300.9" y="436.8" font-size="9.3" text-anchor="end" fill="#1c1c1c" transform="rotate(-90 300.9 436.8)" textLength="25.2" lengthAdjust="spacingAndGlyphs">+ <tspan font-style="italic">CBL</tspan></text>
<text x="317.4" y="285.2" font-size="14.5" font-weight="bold" fill="#000" stroke="#000" stroke-width="0.35">d</text>
<text x="469.3" y="291.4" font-size="9.4" text-anchor="start" fill="#1c1c1c" textLength="69.1" lengthAdjust="spacingAndGlyphs">Anti-BCR (min)</text>
<line x1="354" y1="296.5" x2="653.5" y2="296.5" stroke="#555" stroke-width="0.9" />
<line x1="354.4" y1="313.4" x2="400.8" y2="313.4" stroke="#555" stroke-width="0.9" />
<text x="377.4" y="309.6" font-size="8.8" text-anchor="middle" fill="#1c1c1c">0</text>
<line x1="404.2" y1="313.4" x2="451.2" y2="313.4" stroke="#555" stroke-width="0.9" />
<text x="426.6" y="309.6" font-size="8.8" text-anchor="middle" fill="#1c1c1c">5</text>
<line x1="455.2" y1="313.4" x2="500.1" y2="313.4" stroke="#555" stroke-width="0.9" />
<text x="475.9" y="309.6" font-size="8.8" text-anchor="middle" fill="#1c1c1c">15</text>
<line x1="505.5" y1="313.4" x2="549.8" y2="313.4" stroke="#555" stroke-width="0.9" />
<text x="524.2" y="309.6" font-size="8.8" text-anchor="middle" fill="#1c1c1c">30</text>
<line x1="555.2" y1="313.4" x2="601.7" y2="313.4" stroke="#555" stroke-width="0.9" />
<text x="575.4" y="309.6" font-size="8.8" text-anchor="middle" fill="#1c1c1c">120</text>
<line x1="606.3" y1="313.4" x2="653.5" y2="313.4" stroke="#555" stroke-width="0.9" />
<text x="629.6" y="309.6" font-size="8.8" text-anchor="middle" fill="#1c1c1c">240</text>
<text x="343.5" y="327" font-size="9.4" text-anchor="end" fill="#1c1c1c" textLength="22.8" lengthAdjust="spacingAndGlyphs">BJAB</text>
<text x="343.5" y="339.2" font-size="9.4" text-anchor="end" fill="#1c1c1c" textLength="26.5" lengthAdjust="spacingAndGlyphs">clone</text>
<text x="343.5" y="354.5" font-size="9.4" text-anchor="end" fill="#1c1c1c" textLength="23.9" lengthAdjust="spacingAndGlyphs">pERK</text>
<text x="343.5" y="380" font-size="9.4" text-anchor="end" fill="#1c1c1c" textLength="17.7" lengthAdjust="spacingAndGlyphs">ERK</text>
<text x="343.5" y="402.6" font-size="9.4" text-anchor="end" fill="#1c1c1c" textLength="18.7" lengthAdjust="spacingAndGlyphs">CBL</text>
<text x="343.5" y="424.2" font-size="9.4" text-anchor="end" fill="#1c1c1c" textLength="20.2" lengthAdjust="spacingAndGlyphs">Vinc</text>
<text x="361.2" y="336.4" font-size="8.5" fill="#1c1c1c" transform="rotate(-90 361.2 336.4)" textLength="15.2" lengthAdjust="spacingAndGlyphs">WT1</text>
<text x="373.53" y="336.4" font-size="8.5" fill="#1c1c1c" transform="rotate(-90 373.53 336.4)" textLength="10.8" lengthAdjust="spacingAndGlyphs">KI1</text>
<text x="385.86" y="336.4" font-size="8.5" fill="#1c1c1c" transform="rotate(-90 385.86 336.4)" textLength="12.1" lengthAdjust="spacingAndGlyphs">KI2</text>
<text x="398.19" y="336.4" font-size="8.5" fill="#1c1c1c" transform="rotate(-90 398.19 336.4)" textLength="12.1" lengthAdjust="spacingAndGlyphs">KI3</text>
<text x="410.52" y="336.4" font-size="8.5" fill="#1c1c1c" transform="rotate(-90 410.52 336.4)" textLength="15.2" lengthAdjust="spacingAndGlyphs">WT1</text>
<text x="422.85" y="336.4" font-size="8.5" fill="#1c1c1c" transform="rotate(-90 422.85 336.4)" textLength="10.8" lengthAdjust="spacingAndGlyphs">KI1</text>
<text x="435.18" y="336.4" font-size="8.5" fill="#1c1c1c" transform="rotate(-90 435.18 336.4)" textLength="12.1" lengthAdjust="spacingAndGlyphs">KI2</text>
<text x="447.51" y="336.4" font-size="8.5" fill="#1c1c1c" transform="rotate(-90 447.51 336.4)" textLength="12.1" lengthAdjust="spacingAndGlyphs">KI3</text>
<text x="459.84" y="336.4" font-size="8.5" fill="#1c1c1c" transform="rotate(-90 459.84 336.4)" textLength="15.2" lengthAdjust="spacingAndGlyphs">WT1</text>
<text x="472.17" y="336.4" font-size="8.5" fill="#1c1c1c" transform="rotate(-90 472.17 336.4)" textLength="10.8" lengthAdjust="spacingAndGlyphs">KI1</text>
<text x="484.5" y="336.4" font-size="8.5" fill="#1c1c1c" transform="rotate(-90 484.5 336.4)" textLength="12.1" lengthAdjust="spacingAndGlyphs">KI2</text>
<text x="496.83" y="336.4" font-size="8.5" fill="#1c1c1c" transform="rotate(-90 496.83 336.4)" textLength="12.1" lengthAdjust="spacingAndGlyphs">KI3</text>
<text x="509.16" y="336.4" font-size="8.5" fill="#1c1c1c" transform="rotate(-90 509.16 336.4)" textLength="15.2" lengthAdjust="spacingAndGlyphs">WT1</text>
<text x="521.49" y="336.4" font-size="8.5" fill="#1c1c1c" transform="rotate(-90 521.49 336.4)" textLength="10.8" lengthAdjust="spacingAndGlyphs">KI1</text>
<text x="533.82" y="336.4" font-size="8.5" fill="#1c1c1c" transform="rotate(-90 533.82 336.4)" textLength="12.1" lengthAdjust="spacingAndGlyphs">KI2</text>
<text x="546.15" y="336.4" font-size="8.5" fill="#1c1c1c" transform="rotate(-90 546.15 336.4)" textLength="12.1" lengthAdjust="spacingAndGlyphs">KI3</text>
<text x="558.48" y="336.4" font-size="8.5" fill="#1c1c1c" transform="rotate(-90 558.48 336.4)" textLength="15.2" lengthAdjust="spacingAndGlyphs">WT1</text>
<text x="570.81" y="336.4" font-size="8.5" fill="#1c1c1c" transform="rotate(-90 570.81 336.4)" textLength="10.8" lengthAdjust="spacingAndGlyphs">KI1</text>
<text x="583.14" y="336.4" font-size="8.5" fill="#1c1c1c" transform="rotate(-90 583.14 336.4)" textLength="12.1" lengthAdjust="spacingAndGlyphs">KI2</text>
<text x="595.47" y="336.4" font-size="8.5" fill="#1c1c1c" transform="rotate(-90 595.47 336.4)" textLength="12.1" lengthAdjust="spacingAndGlyphs">KI3</text>
<text x="607.8" y="336.4" font-size="8.5" fill="#1c1c1c" transform="rotate(-90 607.8 336.4)" textLength="15.2" lengthAdjust="spacingAndGlyphs">WT1</text>
<text x="620.13" y="336.4" font-size="8.5" fill="#1c1c1c" transform="rotate(-90 620.13 336.4)" textLength="10.8" lengthAdjust="spacingAndGlyphs">KI1</text>
<text x="632.46" y="336.4" font-size="8.5" fill="#1c1c1c" transform="rotate(-90 632.46 336.4)" textLength="12.1" lengthAdjust="spacingAndGlyphs">KI2</text>
<text x="644.79" y="336.4" font-size="8.5" fill="#1c1c1c" transform="rotate(-90 644.79 336.4)" textLength="12.1" lengthAdjust="spacingAndGlyphs">KI3</text>
<text x="662.7" y="347.8" font-size="8.8" text-anchor="start" fill="#1c1c1c" textLength="17.2" lengthAdjust="spacingAndGlyphs">kDa</text>
<line x1="655" y1="359" x2="658.8" y2="359" stroke="#444" stroke-width="0.9" />
<text x="663.9" y="361.6" font-size="8.8" text-anchor="start" fill="#1c1c1c" textLength="10.2" lengthAdjust="spacingAndGlyphs">40</text>
<line x1="655" y1="383.6" x2="658.8" y2="383.6" stroke="#444" stroke-width="0.9" />
<text x="663.9" y="386.2" font-size="8.8" text-anchor="start" fill="#1c1c1c" textLength="10.2" lengthAdjust="spacingAndGlyphs">40</text>
<line x1="655" y1="409.3" x2="658.8" y2="409.3" stroke="#444" stroke-width="0.9" />
<text x="663.9" y="411.9" font-size="8.8" text-anchor="start" fill="#1c1c1c" textLength="14.5" lengthAdjust="spacingAndGlyphs">100</text>
<line x1="655" y1="432.1" x2="658.8" y2="432.1" stroke="#444" stroke-width="0.9" />
<text x="663.9" y="434.7" font-size="8.8" text-anchor="start" fill="#1c1c1c" textLength="14.5" lengthAdjust="spacingAndGlyphs">100</text>
<defs><filter id="bl" x="-20%" y="-50%" width="140%" height="200%"><feGaussianBlur stdDeviation="0.8"/><feComponentTransfer><feFuncA type="linear" slope="1.5"/></feComponentTransfer></filter><filter id="bg" x="-5%" y="-20%" width="110%" height="140%"><feGaussianBlur stdDeviation="0.5"/></filter></defs>
<g filter="url(#bg)">
<rect x="347.7" y="341.7" width="307.3" height="19.3" fill="#efefef" stroke="none" stroke-width="0.8"/>
<rect x="347.7" y="364.4" width="307.3" height="25.4" fill="#efefef" stroke="none" stroke-width="0.8"/>
<rect x="347.3" y="393.8" width="306.5" height="12.8" fill="#eeeeee" stroke="none" stroke-width="0.8"/>
<rect x="346.8" y="411.2" width="307" height="17.3" fill="#efefef" stroke="none" stroke-width="0.8"/>
</g>
<g filter="url(#bl)">
<rect x="355.2" y="349.4" width="9.6" height="2.2" rx="1.3" fill="#000" fill-opacity="0.75" transform="rotate(8 360 350.5)"/>
<rect x="355.2" y="352.9" width="9.6" height="2.6" rx="1.3" fill="#000" fill-opacity="0.92" transform="rotate(8 360 354.2)"/>
<rect x="355.2" y="372.9" width="9.6" height="2.6" rx="1.3" fill="#000" fill-opacity="0.92" transform="rotate(4 360 374.2)"/>
<rect x="355.2" y="376.85" width="9.6" height="2.3" rx="1.3" fill="#000" fill-opacity="0.5" transform="rotate(4 360 378)"/>
<rect x="355.2" y="397.65" width="9.6" height="3.1" rx="1.3" fill="#000" fill-opacity="1" transform="rotate(9 360 399.2)"/>
<rect x="355.2" y="416.25" width="9.6" height="2.5" rx="1.3" fill="#000" fill-opacity="0.65"/>
<rect x="367.53" y="351.9" width="9.6" height="2" rx="1.3" fill="#000" fill-opacity="0.3" transform="rotate(6 372.33 352.9)"/>
<rect x="367.53" y="355.9" width="9.6" height="2.4" rx="1.3" fill="#000" fill-opacity="0.42" transform="rotate(6 372.33 357.1)"/>
<rect x="367.53" y="374.1" width="9.6" height="2.6" rx="1.3" fill="#000" fill-opacity="0.9" transform="rotate(3 372.33 375.4)"/>
<rect x="367.53" y="378.05" width="9.6" height="2.3" rx="1.3" fill="#000" fill-opacity="0.55" transform="rotate(3 372.33 379.2)"/>
<rect x="367.53" y="399.45" width="9.6" height="3.1" rx="1.3" fill="#000" fill-opacity="0.95" transform="rotate(8 372.33 401)"/>
<rect x="367.53" y="416.9" width="9.6" height="2.6" rx="1.3" fill="#000" fill-opacity="0.8" transform="rotate(2 372.33 418.2)"/>
<rect x="379.86" y="354.1" width="9.6" height="2" rx="1.3" fill="#000" fill-opacity="0.35" transform="rotate(4 384.66 355.1)"/>
<rect x="379.86" y="357.3" width="9.6" height="2.6" rx="1.3" fill="#000" fill-opacity="0.5" transform="rotate(4 384.66 358.6)"/>
<rect x="379.86" y="375" width="9.6" height="2.6" rx="1.3" fill="#000" fill-opacity="0.9" transform="rotate(2 384.66 376.3)"/>
<rect x="379.86" y="379.25" width="9.6" height="2.3" rx="1.3" fill="#000" fill-opacity="0.65" transform="rotate(2 384.66 380.4)"/>
<rect x="379.86" y="400.85" width="9.6" height="3.1" rx="1.3" fill="#000" fill-opacity="1" transform="rotate(2 384.66 402.4)"/>
<rect x="379.86" y="417.7" width="9.6" height="2.8" rx="1.3" fill="#000" fill-opacity="1" transform="rotate(2 384.66 419.1)"/>
<rect x="392.19" y="355.6" width="9.6" height="1.8" rx="1.3" fill="#000" fill-opacity="0.12" transform="rotate(2 396.99 356.5)"/>
<rect x="392.19" y="358.1" width="9.6" height="2.2" rx="1.3" fill="#000" fill-opacity="0.2" transform="rotate(2 396.99 359.2)"/>
<rect x="392.19" y="375.6" width="9.6" height="2.6" rx="1.3" fill="#000" fill-opacity="0.88" transform="rotate(1 396.99 376.9)"/>
<rect x="392.19" y="379.65" width="9.6" height="2.3" rx="1.3" fill="#000" fill-opacity="0.6" transform="rotate(1 396.99 380.8)"/>
<rect x="392.19" y="401.15" width="9.6" height="2.7" rx="1.3" fill="#000" fill-opacity="0.8"/>
<rect x="392.19" y="418.35" width="9.6" height="2.5" rx="1.3" fill="#000" fill-opacity="0.88"/>
<rect x="404.52" y="352.8" width="9.6" height="2.2" rx="1.3" fill="#000" fill-opacity="0.8"/>
<rect x="404.52" y="356.7" width="9.6" height="2.6" rx="1.3" fill="#000" fill-opacity="1"/>
<rect x="404.52" y="376.2" width="9.6" height="2.6" rx="1.3" fill="#000" fill-opacity="0.95" transform="rotate(1 409.32 377.5)"/>
<rect x="404.52" y="380.15" width="9.6" height="2.3" rx="1.3" fill="#000" fill-opacity="0.65" transform="rotate(1 409.32 381.3)"/>
<rect x="404.52" y="401.65" width="9.6" height="2.7" rx="1.3" fill="#000" fill-opacity="0.88"/>
<rect x="404.52" y="418.85" width="9.6" height="2.5" rx="1.3" fill="#000" fill-opacity="0.88" transform="rotate(2 409.32 420.1)"/>
<rect x="416.85" y="352.8" width="9.6" height="2.2" rx="1.3" fill="#000" fill-opacity="0.8"/>
<rect x="416.85" y="356.7" width="9.6" height="2.6" rx="1.3" fill="#000" fill-opacity="1"/>
<rect x="416.85" y="376.9" width="9.6" height="2.6" rx="1.3" fill="#000" fill-opacity="0.95"/>
<rect x="416.85" y="381.15" width="9.6" height="2.3" rx="1.3" fill="#000" fill-opacity="0.72"/>
<rect x="416.85" y="400.6" width="9.6" height="2.8" rx="1.3" fill="#000" fill-opacity="0.88" transform="rotate(-2 421.65 402)"/>
<rect x="416.85" y="419.3" width="9.6" height="3" rx="1.3" fill="#000" fill-opacity="1" transform="rotate(2 421.65 420.8)"/>
<rect x="429.18" y="352.3" width="9.6" height="2.2" rx="1.3" fill="#000" fill-opacity="0.78"/>
<rect x="429.18" y="355.8" width="9.6" height="2.6" rx="1.3" fill="#000" fill-opacity="1"/>
<rect x="429.18" y="376.9" width="9.6" height="2.6" rx="1.3" fill="#000" fill-opacity="0.95"/>
<rect x="429.18" y="381.35" width="9.6" height="2.3" rx="1.3" fill="#000" fill-opacity="0.72"/>
<rect x="429.18" y="399.95" width="9.6" height="2.9" rx="1.3" fill="#000" fill-opacity="1"/>
<rect x="429.18" y="419.2" width="9.6" height="2.8" rx="1.3" fill="#000" fill-opacity="1" transform="rotate(2 433.98 420.6)"/>
<rect x="441.51" y="351.4" width="9.6" height="2.2" rx="1.3" fill="#000" fill-opacity="0.62"/>
<rect x="441.51" y="354.9" width="9.6" height="2.6" rx="1.3" fill="#000" fill-opacity="0.95"/>
<rect x="441.51" y="377" width="9.6" height="2.6" rx="1.3" fill="#000" fill-opacity="0.95"/>
<rect x="441.51" y="381.45" width="9.6" height="2.3" rx="1.3" fill="#000" fill-opacity="0.68"/>
<rect x="441.51" y="399.75" width="9.6" height="2.9" rx="1.3" fill="#000" fill-opacity="0.95"/>
<rect x="441.51" y="420.4" width="9.6" height="2.8" rx="1.3" fill="#000" fill-opacity="0.9" transform="rotate(6 446.31 421.8)"/>
<rect x="453.84" y="350.7" width="9.6" height="3.8" rx="1.3" fill="#000" fill-opacity="1"/>
<rect x="453.84" y="354.75" width="9.6" height="4.1" rx="1.3" fill="#000" fill-opacity="1"/>
<rect x="453.84" y="376.7" width="9.6" height="2.6" rx="1.3" fill="#000" fill-opacity="0.95"/>
<rect x="453.84" y="380.95" width="9.6" height="2.3" rx="1.3" fill="#000" fill-opacity="0.68"/>
<rect x="453.84" y="399.8" width="9.6" height="3" rx="1.3" fill="#000" fill-opacity="1"/>
<rect x="453.84" y="421.6" width="9.6" height="2.8" rx="1.3" fill="#000" fill-opacity="1" transform="rotate(2 458.64 423)"/>
<rect x="466.17" y="352.4" width="9.6" height="2.2" rx="1.3" fill="#000" fill-opacity="0.78"/>
<rect x="466.17" y="355.95" width="9.6" height="2.7" rx="1.3" fill="#000" fill-opacity="1"/>
<rect x="466.17" y="376.3" width="9.6" height="2.6" rx="1.3" fill="#000" fill-opacity="0.95" transform="rotate(-3 470.97 377.6)"/>
<rect x="466.17" y="380.55" width="9.6" height="2.3" rx="1.3" fill="#000" fill-opacity="0.68" transform="rotate(-3 470.97 381.7)"/>
<rect x="466.17" y="400" width="9.6" height="3.2" rx="1.3" fill="#000" fill-opacity="1" transform="rotate(2 470.97 401.6)"/>
<rect x="466.17" y="421.55" width="9.6" height="3.3" rx="1.3" fill="#000" fill-opacity="1"/>
<rect x="478.5" y="352" width="9.6" height="2.2" rx="1.3" fill="#000" fill-opacity="0.62"/>
<rect x="478.5" y="355.55" width="9.6" height="2.7" rx="1.3" fill="#000" fill-opacity="1"/>
<rect x="478.5" y="375.8" width="9.6" height="2.6" rx="1.3" fill="#000" fill-opacity="0.95" transform="rotate(-3 483.3 377.1)"/>
<rect x="478.5" y="379.65" width="9.6" height="2.3" rx="1.3" fill="#000" fill-opacity="0.6" transform="rotate(-3 483.3 380.8)"/>
<rect x="478.5" y="399.95" width="9.6" height="2.5" rx="1.3" fill="#000" fill-opacity="0.62"/>
<rect x="478.5" y="421.3" width="9.6" height="3" rx="1.3" fill="#000" fill-opacity="1"/>
<rect x="490.83" y="351.6" width="9.6" height="2.2" rx="1.3" fill="#000" fill-opacity="0.62"/>
<rect x="490.83" y="355.1" width="9.6" height="2.6" rx="1.3" fill="#000" fill-opacity="0.95"/>
<rect x="490.83" y="375" width="9.6" height="2.6" rx="1.3" fill="#000" fill-opacity="0.95" transform="rotate(-2 495.63 376.3)"/>
<rect x="490.83" y="378.95" width="9.6" height="2.3" rx="1.3" fill="#000" fill-opacity="0.6" transform="rotate(-2 495.63 380.1)"/>
<rect x="490.83" y="399.35" width="9.6" height="2.7" rx="1.3" fill="#000" fill-opacity="0.8" transform="rotate(-2 495.63 400.7)"/>
<rect x="490.83" y="420.9" width="9.6" height="2.8" rx="1.3" fill="#000" fill-opacity="1"/>
<rect x="503.16" y="350.9" width="9.6" height="3.4" rx="1.3" fill="#000" fill-opacity="1"/>
<rect x="503.16" y="354.85" width="9.6" height="3.9" rx="1.3" fill="#000" fill-opacity="1"/>
<rect x="503.16" y="374.3" width="9.6" height="2.6" rx="1.3" fill="#000" fill-opacity="0.95"/>
<rect x="503.16" y="378.45" width="9.6" height="2.3" rx="1.3" fill="#000" fill-opacity="0.65"/>
<rect x="503.16" y="398.5" width="9.6" height="3" rx="1.3" fill="#000" fill-opacity="1" transform="rotate(-6 507.96 400)"/>
<rect x="503.16" y="420.5" width="9.6" height="3" rx="1.3" fill="#000" fill-opacity="1" transform="rotate(-2 507.96 422)"/>
<rect x="515.49" y="350.4" width="9.6" height="2.2" rx="1.3" fill="#000" fill-opacity="0.7" transform="rotate(-4 520.29 351.5)"/>
<rect x="515.49" y="354.05" width="9.6" height="2.9" rx="1.3" fill="#000" fill-opacity="0.95" transform="rotate(-4 520.29 355.5)"/>
<rect x="515.49" y="374.6" width="9.6" height="2.6" rx="1.3" fill="#000" fill-opacity="0.95"/>
<rect x="515.49" y="378.65" width="9.6" height="2.3" rx="1.3" fill="#000" fill-opacity="0.62"/>
<rect x="515.49" y="397.4" width="9.6" height="3" rx="1.3" fill="#000" fill-opacity="1" transform="rotate(-2 520.29 398.9)"/>
<rect x="515.49" y="420.55" width="9.6" height="3.3" rx="1.3" fill="#000" fill-opacity="1"/>
<rect x="527.82" y="349.7" width="9.6" height="2.2" rx="1.3" fill="#000" fill-opacity="0.62"/>
<rect x="527.82" y="353.4" width="9.6" height="2.8" rx="1.3" fill="#000" fill-opacity="1"/>
<rect x="527.82" y="374.8" width="9.6" height="2.6" rx="1.3" fill="#000" fill-opacity="0.92"/>
<rect x="527.82" y="378.95" width="9.6" height="2.3" rx="1.3" fill="#000" fill-opacity="0.62"/>
<rect x="527.82" y="397.35" width="9.6" height="2.7" rx="1.3" fill="#000" fill-opacity="0.82"/>
<rect x="527.82" y="420.85" width="9.6" height="3.1" rx="1.3" fill="#000" fill-opacity="1"/>
<rect x="540.15" y="349.5" width="9.6" height="2.2" rx="1.3" fill="#000" fill-opacity="0.62"/>
<rect x="540.15" y="353.1" width="9.6" height="2.6" rx="1.3" fill="#000" fill-opacity="1"/>
<rect x="540.15" y="375" width="9.6" height="2.6" rx="1.3" fill="#000" fill-opacity="0.92"/>
<rect x="540.15" y="379.25" width="9.6" height="2.3" rx="1.3" fill="#000" fill-opacity="0.62"/>
<rect x="540.15" y="397.35" width="9.6" height="2.7" rx="1.3" fill="#000" fill-opacity="0.75"/>
<rect x="540.15" y="421.2" width="9.6" height="2.8" rx="1.3" fill="#000" fill-opacity="0.9"/>
<rect x="552.48" y="348.6" width="9.6" height="2.4" rx="1.3" fill="#000" fill-opacity="0.9" transform="rotate(-4 557.28 349.8)"/>
<rect x="552.48" y="352.45" width="9.6" height="3.3" rx="1.3" fill="#000" fill-opacity="1" transform="rotate(-4 557.28 354.1)"/>
<rect x="552.48" y="375.2" width="9.6" height="2.6" rx="1.3" fill="#000" fill-opacity="0.95"/>
<rect x="552.48" y="379.45" width="9.6" height="2.3" rx="1.3" fill="#000" fill-opacity="0.65"/>
<rect x="552.48" y="396.75" width="9.6" height="2.9" rx="1.3" fill="#000" fill-opacity="0.88"/>
<rect x="552.48" y="421.6" width="9.6" height="2.8" rx="1.3" fill="#000" fill-opacity="0.9"/>
<rect x="564.81" y="348.4" width="9.6" height="2.2" rx="1.3" fill="#000" fill-opacity="0.88"/>
<rect x="564.81" y="352.05" width="9.6" height="3.3" rx="1.3" fill="#000" fill-opacity="1"/>
<rect x="564.81" y="375" width="9.6" height="2.6" rx="1.3" fill="#000" fill-opacity="0.95"/>
<rect x="564.81" y="379.15" width="9.6" height="2.3" rx="1.3" fill="#000" fill-opacity="0.62"/>
<rect x="564.81" y="396.65" width="9.6" height="3.1" rx="1.3" fill="#000" fill-opacity="1"/>
<rect x="564.81" y="421.4" width="9.6" height="3.2" rx="1.3" fill="#000" fill-opacity="1"/>
<rect x="577.14" y="348.6" width="9.6" height="2.4" rx="1.3" fill="#000" fill-opacity="0.9"/>
<rect x="577.14" y="352.15" width="9.6" height="3.9" rx="1.3" fill="#000" fill-opacity="1"/>
<rect x="577.14" y="374.6" width="9.6" height="2.6" rx="1.3" fill="#000" fill-opacity="0.95"/>
<rect x="577.14" y="378.75" width="9.6" height="2.3" rx="1.3" fill="#000" fill-opacity="0.65"/>
<rect x="577.14" y="397.85" width="9.6" height="3.1" rx="1.3" fill="#000" fill-opacity="1" transform="rotate(6 581.94 399.4)"/>
<rect x="577.14" y="421.1" width="9.6" height="3.2" rx="1.3" fill="#000" fill-opacity="1"/>
<rect x="589.47" y="348.8" width="9.6" height="1.8" rx="1.3" fill="#000" fill-opacity="0.45"/>
<rect x="589.47" y="352.35" width="9.6" height="2.3" rx="1.3" fill="#000" fill-opacity="0.68"/>
<rect x="589.47" y="374.3" width="9.6" height="2.6" rx="1.3" fill="#000" fill-opacity="0.82"/>
<rect x="589.47" y="378.55" width="9.6" height="2.3" rx="1.3" fill="#000" fill-opacity="0.45"/>
<rect x="589.47" y="399.05" width="9.6" height="2.9" rx="1.3" fill="#000" fill-opacity="0.82" transform="rotate(6 594.27 400.5)"/>
<rect x="589.47" y="421.5" width="9.6" height="2.6" rx="1.3" fill="#000" fill-opacity="0.9"/>
<rect x="601.8" y="348.9" width="9.6" height="2.2" rx="1.3" fill="#000" fill-opacity="0.9"/>
<rect x="601.8" y="352.35" width="9.6" height="2.7" rx="1.3" fill="#000" fill-opacity="1"/>
<rect x="601.8" y="374" width="9.6" height="2.6" rx="1.3" fill="#000" fill-opacity="0.95"/>
<rect x="601.8" y="378.25" width="9.6" height="2.3" rx="1.3" fill="#000" fill-opacity="0.58"/>
<rect x="601.8" y="400.55" width="9.6" height="2.7" rx="1.3" fill="#000" fill-opacity="0.65" transform="rotate(3 606.6 401.9)"/>
<rect x="601.8" y="421.6" width="9.6" height="2.4" rx="1.3" fill="#000" fill-opacity="0.68"/>
<rect x="614.13" y="348.4" width="9.6" height="2.2" rx="1.3" fill="#000" fill-opacity="0.9"/>
<rect x="614.13" y="352.05" width="9.6" height="2.9" rx="1.3" fill="#000" fill-opacity="1"/>
<rect x="614.13" y="373.5" width="9.6" height="2.6" rx="1.3" fill="#000" fill-opacity="0.95" transform="rotate(-2 618.93 374.8)"/>
<rect x="614.13" y="377.75" width="9.6" height="2.3" rx="1.3" fill="#000" fill-opacity="0.7" transform="rotate(-2 618.93 378.9)"/>
<rect x="614.13" y="400.85" width="9.6" height="3.1" rx="1.3" fill="#000" fill-opacity="1" transform="rotate(2 618.93 402.4)"/>
<rect x="614.13" y="421.9" width="9.6" height="3" rx="1.3" fill="#000" fill-opacity="1" transform="rotate(2 618.93 423.4)"/>
<rect x="626.46" y="347" width="9.6" height="2.4" rx="1.3" fill="#000" fill-opacity="1"/>
<rect x="626.46" y="349.75" width="9.6" height="3.5" rx="1.3" fill="#000" fill-opacity="1"/>
<rect x="626.46" y="372.6" width="9.6" height="2.6" rx="1.3" fill="#000" fill-opacity="0.95" transform="rotate(-5 631.26 373.9)"/>
<rect x="626.46" y="376.35" width="9.6" height="2.3" rx="1.3" fill="#000" fill-opacity="0.6" transform="rotate(-5 631.26 377.5)"/>
<rect x="626.46" y="400.05" width="9.6" height="3.1" rx="1.3" fill="#000" fill-opacity="1" transform="rotate(-6 631.26 401.6)"/>
<rect x="626.46" y="422.1" width="9.6" height="2.8" rx="1.3" fill="#000" fill-opacity="0.92" transform="rotate(2 631.26 423.5)"/>
<rect x="638.79" y="344.8" width="9.6" height="2" rx="1.3" fill="#000" fill-opacity="0.52" transform="rotate(-11 643.59 345.8)"/>
<rect x="638.79" y="348.45" width="9.6" height="2.3" rx="1.3" fill="#000" fill-opacity="0.68" transform="rotate(-11 643.59 349.6)"/>
<rect x="638.79" y="371.2" width="9.6" height="2.6" rx="1.3" fill="#000" fill-opacity="0.95" transform="rotate(-5 643.59 372.5)"/>
<rect x="638.79" y="375.25" width="9.6" height="2.3" rx="1.3" fill="#000" fill-opacity="0.52" transform="rotate(-5 643.59 376.4)"/>
<rect x="638.79" y="398.55" width="9.6" height="2.9" rx="1.3" fill="#000" fill-opacity="0.88" transform="rotate(-8 643.59 400)"/>
<rect x="638.79" y="422.7" width="9.6" height="3" rx="1.3" fill="#000" fill-opacity="0.9" transform="rotate(5 643.59 424.2)"/>
</g>
<text x="3.6" y="483.6" font-size="14.5" font-weight="bold" fill="#000" stroke="#000" stroke-width="0.35">e</text>
<text x="13.5" y="507.6" font-size="10.1" text-anchor="start" fill="#1c1c1c" textLength="51.7" lengthAdjust="spacingAndGlyphs">Monocytes</text>
<text x="68.7" y="507.6" font-size="10.1" fill="#e8291f" textLength="42.8" lengthAdjust="spacingAndGlyphs"><tspan font-style="italic">CBL</tspan>-LOH</text>
<text x="114.5" y="507.6" font-size="10.1" text-anchor="start" fill="#1c1c1c" textLength="26.6" lengthAdjust="spacingAndGlyphs">or HD</text>
<polygon points="77.4,513.4 80,513.4 80,520.5 83.8,516.9 78.7,528.8 73.6,516.9 77.4,520.5" fill="#bdbdbd"/>
<text x="20.5" y="538.6" font-size="10.1" text-anchor="start" fill="#1c1c1c" textLength="116.7" lengthAdjust="spacingAndGlyphs">24 h culture supernatant</text>
<polygon points="77.4,543.6 80,543.6 80,550.7 83.8,547.1 78.7,559 73.6,547.1 77.4,550.7" fill="#bdbdbd"/>
<text x="39.4" y="571.1" font-size="10.1" fill="#1c1c1c" textLength="78.8" lengthAdjust="spacingAndGlyphs">HD CD19<tspan dy="-4" font-size="6">+</tspan><tspan dy="4"> B cells</tspan></text>
<polygon points="77.4,575.8 80,575.8 80,582.9 83.8,579.3 78.7,591.2 73.6,579.3 77.4,582.9" fill="#bdbdbd"/>
<text x="11.3" y="602.7" font-size="10.1" text-anchor="start" fill="#1c1c1c" textLength="134" lengthAdjust="spacingAndGlyphs">Immunoglobulin production</text>
<text x="159.8" y="548.5" font-size="10.4" text-anchor="middle" fill="#1c1c1c" textLength="118.7" lengthAdjust="spacingAndGlyphs" transform="rotate(-90 159.8 548.5)">Relative immunoglobulin</text>
<text x="170.6" y="548.3" font-size="10.4" text-anchor="middle" fill="#1c1c1c" textLength="52.5" lengthAdjust="spacingAndGlyphs" transform="rotate(-90 170.6 548.3)">production</text>
<line x1="200.4" y1="483.1" x2="200.4" y2="613.4" stroke="#808080" stroke-width="1" />
<line x1="195.5" y1="613.2" x2="678.9" y2="613.2" stroke="#808080" stroke-width="1" />
<line x1="195.6" y1="483.1" x2="200.4" y2="483.1" stroke="#808080" stroke-width="0.9" />
<text x="191.6" y="486.2" font-size="8.6" text-anchor="end" fill="#1c1c1c">2.5</text>
<line x1="195.6" y1="509.1" x2="200.4" y2="509.1" stroke="#808080" stroke-width="0.9" />
<text x="191.6" y="512.2" font-size="8.6" text-anchor="end" fill="#1c1c1c">2.0</text>
<line x1="195.6" y1="535.2" x2="200.4" y2="535.2" stroke="#808080" stroke-width="0.9" />
<text x="191.6" y="538.3" font-size="8.6" text-anchor="end" fill="#1c1c1c">1.5</text>
<line x1="195.6" y1="561.2" x2="200.4" y2="561.2" stroke="#808080" stroke-width="0.9" />
<text x="191.6" y="564.3" font-size="8.6" text-anchor="end" fill="#1c1c1c">1.0</text>
<line x1="195.6" y1="587.2" x2="200.4" y2="587.2" stroke="#808080" stroke-width="0.9" />
<text x="191.6" y="590.3" font-size="8.6" text-anchor="end" fill="#1c1c1c">0.5</text>
<line x1="195.6" y1="613.2" x2="200.4" y2="613.2" stroke="#808080" stroke-width="0.9" />
<text x="191.6" y="616.3" font-size="8.6" text-anchor="end" fill="#1c1c1c">0</text>
<line x1="230.4" y1="613.2" x2="230.4" y2="617.8" stroke="#808080" stroke-width="0.9" />
<text x="230.4" y="630.3" font-size="9.5" text-anchor="middle" fill="#1c1c1c">IgG1</text>
<line x1="301.3" y1="613.2" x2="301.3" y2="617.8" stroke="#808080" stroke-width="0.9" />
<text x="301.3" y="630.3" font-size="9.5" text-anchor="middle" fill="#1c1c1c">IgG2</text>
<line x1="372.2" y1="613.2" x2="372.2" y2="617.8" stroke="#808080" stroke-width="0.9" />
<text x="372.2" y="630.3" font-size="9.5" text-anchor="middle" fill="#1c1c1c">IgG3</text>
<line x1="442.4" y1="613.2" x2="442.4" y2="617.8" stroke="#808080" stroke-width="0.9" />
<text x="442.4" y="630.3" font-size="9.5" text-anchor="middle" fill="#1c1c1c">IgG4</text>
<line x1="513.3" y1="613.2" x2="513.3" y2="617.8" stroke="#808080" stroke-width="0.9" />
<text x="513.3" y="630.3" font-size="9.5" text-anchor="middle" fill="#1c1c1c">IgA</text>
<line x1="584.1" y1="613.2" x2="584.1" y2="617.8" stroke="#808080" stroke-width="0.9" />
<text x="584.1" y="630.3" font-size="9.5" text-anchor="middle" fill="#1c1c1c">IgM</text>
<line x1="654.3" y1="613.2" x2="654.3" y2="617.8" stroke="#808080" stroke-width="0.9" />
<text x="654.3" y="630.3" font-size="9.5" text-anchor="middle" fill="#1c1c1c">IgD</text>
<circle cx="302.3" cy="490.8" r="2.2" fill="#050505"/>
<text x="309.9" y="493.6" font-size="8.4" text-anchor="start" fill="#1c1c1c" textLength="16.3" lengthAdjust="spacingAndGlyphs">HDs</text>
<circle cx="343.6" cy="490.8" r="2.2" fill="#e8291f"/>
<text x="350.7" y="493.6" font-size="8.4" text-anchor="start" fill="#1c1c1c" textLength="101.2" lengthAdjust="spacingAndGlyphs">CBL P1, P2, P3, P4, P5, P8</text>
<line x1="217.6" y1="553.6" x2="217.6" y2="568" stroke="#555" stroke-width="0.8" />
<line x1="213.2" y1="553.6" x2="222" y2="553.6" stroke="#555" stroke-width="0.8" />
<line x1="213.2" y1="568" x2="222" y2="568" stroke="#555" stroke-width="0.8" />
<circle cx="217.6" cy="545.1" r="2.2" fill="#050505"/>
<circle cx="216.2" cy="551" r="2.2" fill="#050505"/>
<circle cx="219.1" cy="554.7" r="2.2" fill="#050505"/>
<circle cx="216.2" cy="557.8" r="2.2" fill="#050505"/>
<circle cx="210.9" cy="560.9" r="2.2" fill="#050505"/>
<circle cx="214" cy="562.4" r="2.2" fill="#050505"/>
<circle cx="219.1" cy="559.3" r="2.2" fill="#050505"/>
<circle cx="221.7" cy="560.9" r="2.2" fill="#050505"/>
<circle cx="224.5" cy="561.2" r="2.2" fill="#050505"/>
<circle cx="216.6" cy="563.4" r="2.2" fill="#050505"/>
<circle cx="219.1" cy="564.5" r="2.2" fill="#050505"/>
<circle cx="221.7" cy="565.3" r="2.2" fill="#050505"/>
<circle cx="216.6" cy="569.1" r="2.2" fill="#050505"/>
<circle cx="219.1" cy="569.9" r="2.2" fill="#050505"/>
<circle cx="217.6" cy="574.8" r="2.2" fill="#050505"/>
<line x1="208.8" y1="561" x2="226.4" y2="561" stroke="#2a2a2a" stroke-width="1" />
<line x1="244.2" y1="512.2" x2="244.2" y2="537.4" stroke="#f07a72" stroke-width="0.8" />
<line x1="239.8" y1="512.2" x2="248.6" y2="512.2" stroke="#f07a72" stroke-width="0.8" />
<line x1="239.8" y1="537.4" x2="248.6" y2="537.4" stroke="#f07a72" stroke-width="0.8" />
<line x1="235.4" y1="524.3" x2="253" y2="524.3" stroke="#2a2a2a" stroke-width="1" />
<circle cx="244.2" cy="505" r="2.2" fill="#e8291f"/>
<circle cx="244.2" cy="520.8" r="2.2" fill="#e8291f"/>
<circle cx="237.6" cy="523.9" r="2.2" fill="#e8291f"/>
<circle cx="250.7" cy="523.9" r="2.2" fill="#e8291f"/>
<circle cx="244.2" cy="531.2" r="2.2" fill="#e8291f"/>
<circle cx="244.2" cy="543.5" r="2.2" fill="#e8291f"/>
<polyline points="217.4,538.6 217.4,492.3 244.5,492.3 244.5,498.5" stroke="#808080" stroke-width="0.9" fill="none"/>
<polygon points="225.2,484.25 225.85,485.71 227.43,485.87 226.25,486.94 226.58,488.5 225.2,487.7 223.82,488.5 224.15,486.94 222.97,485.87 224.55,485.71" fill="#222"/>
<polygon points="231,484.25 231.65,485.71 233.23,485.87 232.05,486.94 232.38,488.5 231,487.7 229.62,488.5 229.95,486.94 228.77,485.87 230.35,485.71" fill="#222"/>
<polygon points="236.8,484.25 237.45,485.71 239.03,485.87 237.85,486.94 238.18,488.5 236.8,487.7 235.42,488.5 235.75,486.94 234.57,485.87 236.15,485.71" fill="#222"/>
<line x1="288.4" y1="553.1" x2="288.4" y2="569.7" stroke="#555" stroke-width="0.8" />
<line x1="284" y1="553.1" x2="292.8" y2="553.1" stroke="#555" stroke-width="0.8" />
<line x1="284" y1="569.7" x2="292.8" y2="569.7" stroke="#555" stroke-width="0.8" />
<circle cx="286.2" cy="547" r="2.2" fill="#050505"/>
<circle cx="288.4" cy="548.3" r="2.2" fill="#050505"/>
<circle cx="290.8" cy="550" r="2.2" fill="#050505"/>
<circle cx="288.4" cy="552.8" r="2.2" fill="#050505"/>
<circle cx="290.6" cy="558.8" r="2.2" fill="#050505"/>
<circle cx="288.4" cy="560.5" r="2.2" fill="#050505"/>
<circle cx="281.8" cy="564" r="2.2" fill="#050505"/>
<circle cx="286.2" cy="564.9" r="2.2" fill="#050505"/>
<circle cx="292.3" cy="564.9" r="2.2" fill="#050505"/>
<circle cx="285.8" cy="567.6" r="2.2" fill="#050505"/>
<circle cx="289.3" cy="568" r="2.2" fill="#050505"/>
<circle cx="295" cy="567.6" r="2.2" fill="#050505"/>
<circle cx="288.2" cy="576.8" r="2.2" fill="#050505"/>
<line x1="279.6" y1="561.2" x2="297.2" y2="561.2" stroke="#2a2a2a" stroke-width="1" />
<line x1="314.8" y1="537.9" x2="314.8" y2="579.4" stroke="#f07a72" stroke-width="0.8" />
<line x1="310.4" y1="537.9" x2="319.2" y2="537.9" stroke="#f07a72" stroke-width="0.8" />
<line x1="310.4" y1="579.4" x2="319.2" y2="579.4" stroke="#f07a72" stroke-width="0.8" />
<line x1="306" y1="558.5" x2="323.6" y2="558.5" stroke="#2a2a2a" stroke-width="1" />
<circle cx="314.8" cy="523.1" r="2.2" fill="#e8291f"/>
<circle cx="314.8" cy="551.6" r="2.2" fill="#e8291f"/>
<circle cx="314.8" cy="556.9" r="2.2" fill="#e8291f"/>
<circle cx="314.8" cy="562.7" r="2.2" fill="#e8291f"/>
<circle cx="319" cy="577.8" r="2.2" fill="#e8291f"/>
<circle cx="310.3" cy="580.5" r="2.2" fill="#e8291f"/>
<line x1="359" y1="547.6" x2="359" y2="575.8" stroke="#555" stroke-width="0.8" />
<line x1="354.6" y1="547.6" x2="363.4" y2="547.6" stroke="#555" stroke-width="0.8" />
<line x1="354.6" y1="575.8" x2="363.4" y2="575.8" stroke="#555" stroke-width="0.8" />
<circle cx="355.9" cy="538.1" r="2.2" fill="#050505"/>
<circle cx="362.7" cy="537.4" r="2.2" fill="#050505"/>
<circle cx="352.8" cy="552.8" r="2.2" fill="#050505"/>
<circle cx="359" cy="550.5" r="2.2" fill="#050505"/>
<circle cx="365.1" cy="556.4" r="2.2" fill="#050505"/>
<circle cx="352.8" cy="561" r="2.2" fill="#050505"/>
<circle cx="365.1" cy="561" r="2.2" fill="#050505"/>
<circle cx="359" cy="564" r="2.2" fill="#050505"/>
<circle cx="352.8" cy="568.7" r="2.2" fill="#050505"/>
<circle cx="365.1" cy="568.7" r="2.2" fill="#050505"/>
<circle cx="359" cy="572" r="2.2" fill="#050505"/>
<circle cx="352.8" cy="578.8" r="2.2" fill="#050505"/>
<circle cx="359" cy="578.8" r="2.2" fill="#050505"/>
<circle cx="365.1" cy="578.8" r="2.2" fill="#050505"/>
<line x1="350.2" y1="561" x2="367.8" y2="561" stroke="#2a2a2a" stroke-width="1" />
<line x1="385.6" y1="523.6" x2="385.6" y2="568.1" stroke="#f07a72" stroke-width="0.8" />
<line x1="381.2" y1="523.6" x2="390" y2="523.6" stroke="#f07a72" stroke-width="0.8" />
<line x1="381.2" y1="568.1" x2="390" y2="568.1" stroke="#f07a72" stroke-width="0.8" />
<line x1="376.8" y1="545.1" x2="394.4" y2="545.1" stroke="#2a2a2a" stroke-width="1" />
<circle cx="385.6" cy="519" r="2.2" fill="#e8291f"/>
<circle cx="385.6" cy="525.2" r="2.2" fill="#e8291f"/>
<circle cx="381" cy="546.6" r="2.2" fill="#e8291f"/>
<circle cx="390.2" cy="544.2" r="2.2" fill="#e8291f"/>
<circle cx="385.6" cy="559.8" r="2.2" fill="#e8291f"/>
<circle cx="385.6" cy="579.4" r="2.2" fill="#e8291f"/>
<line x1="429.6" y1="547" x2="429.6" y2="575.3" stroke="#555" stroke-width="0.8" />
<line x1="425.2" y1="547" x2="434" y2="547" stroke="#555" stroke-width="0.8" />
<line x1="425.2" y1="575.3" x2="434" y2="575.3" stroke="#555" stroke-width="0.8" />
<circle cx="429.6" cy="539.1" r="2.2" fill="#050505"/>
<circle cx="423" cy="542" r="2.2" fill="#050505"/>
<circle cx="436.4" cy="544" r="2.2" fill="#050505"/>
<circle cx="426.1" cy="550" r="2.2" fill="#050505"/>
<circle cx="433" cy="550.5" r="2.2" fill="#050505"/>
<circle cx="429.6" cy="557.6" r="2.2" fill="#050505"/>
<circle cx="423" cy="560.1" r="2.2" fill="#050505"/>
<circle cx="436.4" cy="560.4" r="2.2" fill="#050505"/>
<circle cx="429.6" cy="562.7" r="2.2" fill="#050505"/>
<circle cx="436.4" cy="567.2" r="2.2" fill="#050505"/>
<circle cx="429.6" cy="570.9" r="2.2" fill="#050505"/>
<circle cx="423" cy="575.4" r="2.2" fill="#050505"/>
<circle cx="429.6" cy="576.6" r="2.2" fill="#050505"/>
<circle cx="436.4" cy="575.4" r="2.2" fill="#050505"/>
<circle cx="429.6" cy="588.2" r="2.2" fill="#050505"/>
<line x1="420.8" y1="561.1" x2="438.4" y2="561.1" stroke="#2a2a2a" stroke-width="1" />
<line x1="456.2" y1="555.8" x2="456.2" y2="574.2" stroke="#f07a72" stroke-width="0.8" />
<line x1="451.8" y1="555.8" x2="460.6" y2="555.8" stroke="#f07a72" stroke-width="0.8" />
<line x1="451.8" y1="574.2" x2="460.6" y2="574.2" stroke="#f07a72" stroke-width="0.8" />
<line x1="447.4" y1="565" x2="465" y2="565" stroke="#2a2a2a" stroke-width="1" />
<circle cx="451.9" cy="552.8" r="2.2" fill="#e8291f"/>
<circle cx="460.1" cy="556.8" r="2.2" fill="#e8291f"/>
<circle cx="457.1" cy="562.9" r="2.2" fill="#e8291f"/>
<circle cx="451.9" cy="567.5" r="2.2" fill="#e8291f"/>
<circle cx="460.1" cy="567.5" r="2.2" fill="#e8291f"/>
<circle cx="456.2" cy="578.8" r="2.2" fill="#e8291f"/>
<line x1="500.3" y1="549.4" x2="500.3" y2="573.4" stroke="#555" stroke-width="0.8" />
<line x1="495.9" y1="549.4" x2="504.7" y2="549.4" stroke="#555" stroke-width="0.8" />
<line x1="495.9" y1="573.4" x2="504.7" y2="573.4" stroke="#555" stroke-width="0.8" />
<circle cx="500.3" cy="527.6" r="2.2" fill="#050505"/>
<circle cx="495.8" cy="555.3" r="2.2" fill="#050505"/>
<circle cx="504.7" cy="554.7" r="2.2" fill="#050505"/>
<circle cx="502.4" cy="557" r="2.2" fill="#050505"/>
<circle cx="500.1" cy="558.9" r="2.2" fill="#050505"/>
<circle cx="493.6" cy="563.1" r="2.2" fill="#050505"/>
<circle cx="495.9" cy="565" r="2.2" fill="#050505"/>
<circle cx="498.6" cy="562.4" r="2.2" fill="#050505"/>
<circle cx="504.7" cy="561.2" r="2.2" fill="#050505"/>
<circle cx="507" cy="562" r="2.2" fill="#050505"/>
<circle cx="504.7" cy="565.4" r="2.2" fill="#050505"/>
<circle cx="500.3" cy="567.3" r="2.2" fill="#050505"/>
<circle cx="500.3" cy="576.5" r="2.2" fill="#050505"/>
<circle cx="500.3" cy="581.1" r="2.2" fill="#050505"/>
<line x1="491.5" y1="562" x2="509.1" y2="562" stroke="#2a2a2a" stroke-width="1" />
<line x1="526.5" y1="531.3" x2="526.5" y2="566.6" stroke="#f07a72" stroke-width="0.8" />
<line x1="522.1" y1="531.3" x2="530.9" y2="531.3" stroke="#f07a72" stroke-width="0.8" />
<line x1="522.1" y1="566.6" x2="530.9" y2="566.6" stroke="#f07a72" stroke-width="0.8" />
<line x1="517.7" y1="549.7" x2="535.3" y2="549.7" stroke="#2a2a2a" stroke-width="1" />
<circle cx="526.5" cy="531.3" r="2.2" fill="#e8291f"/>
<circle cx="522.5" cy="536.8" r="2.2" fill="#e8291f"/>
<circle cx="530.8" cy="538.1" r="2.2" fill="#e8291f"/>
<circle cx="526.5" cy="548.2" r="2.2" fill="#e8291f"/>
<circle cx="526.5" cy="572.7" r="2.2" fill="#e8291f"/>
<line x1="570.9" y1="550.3" x2="570.9" y2="573.2" stroke="#555" stroke-width="0.8" />
<line x1="566.5" y1="550.3" x2="575.3" y2="550.3" stroke="#555" stroke-width="0.8" />
<line x1="566.5" y1="573.2" x2="575.3" y2="573.2" stroke="#555" stroke-width="0.8" />
<circle cx="570.9" cy="539.5" r="2.2" fill="#050505"/>
<circle cx="574.9" cy="546.9" r="2.2" fill="#050505"/>
<circle cx="572.6" cy="549.3" r="2.2" fill="#050505"/>
<circle cx="569.2" cy="549.9" r="2.2" fill="#050505"/>
<circle cx="569.5" cy="554.3" r="2.2" fill="#050505"/>
<circle cx="572.2" cy="557.7" r="2.2" fill="#050505"/>
<circle cx="566.8" cy="563.8" r="2.2" fill="#050505"/>
<circle cx="570.5" cy="563.4" r="2.2" fill="#050505"/>
<circle cx="574.2" cy="564.5" r="2.2" fill="#050505"/>
<circle cx="578" cy="563.8" r="2.2" fill="#050505"/>
<circle cx="564.1" cy="566.5" r="2.2" fill="#050505"/>
<circle cx="572.2" cy="567.8" r="2.2" fill="#050505"/>
<circle cx="569.5" cy="569.9" r="2.2" fill="#050505"/>
<circle cx="570.9" cy="577" r="2.2" fill="#050505"/>
<circle cx="570.9" cy="584.7" r="2.2" fill="#050505"/>
<line x1="562.1" y1="561.4" x2="579.7" y2="561.4" stroke="#2a2a2a" stroke-width="1" />
<line x1="597.6" y1="522.7" x2="597.6" y2="551.2" stroke="#f07a72" stroke-width="0.8" />
<line x1="593.2" y1="522.7" x2="602" y2="522.7" stroke="#f07a72" stroke-width="0.8" />
<line x1="593.2" y1="551.2" x2="602" y2="551.2" stroke="#f07a72" stroke-width="0.8" />
<line x1="588.8" y1="537.4" x2="606.4" y2="537.4" stroke="#2a2a2a" stroke-width="1" />
<circle cx="597.6" cy="516.6" r="2.2" fill="#e8291f"/>
<circle cx="593" cy="532.8" r="2.2" fill="#e8291f"/>
<circle cx="601.6" cy="533.8" r="2.2" fill="#e8291f"/>
<circle cx="597.6" cy="540.5" r="2.2" fill="#e8291f"/>
<circle cx="597.6" cy="561" r="2.2" fill="#e8291f"/>
<polyline points="571,532.8 571,492.1 597.6,492.1 597.6,509.9" stroke="#808080" stroke-width="0.9" fill="none"/>
<polygon points="578.5,483.65 579.15,485.11 580.73,485.27 579.55,486.34 579.88,487.9 578.5,487.1 577.12,487.9 577.45,486.34 576.27,485.27 577.85,485.11" fill="#222"/>
<polygon points="584.3,483.65 584.95,485.11 586.53,485.27 585.35,486.34 585.68,487.9 584.3,487.1 582.92,487.9 583.25,486.34 582.07,485.27 583.65,485.11" fill="#222"/>
<line x1="641.8" y1="547.4" x2="641.8" y2="575.4" stroke="#555" stroke-width="0.8" />
<line x1="637.4" y1="547.4" x2="646.2" y2="547.4" stroke="#555" stroke-width="0.8" />
<line x1="637.4" y1="575.4" x2="646.2" y2="575.4" stroke="#555" stroke-width="0.8" />
<circle cx="641.6" cy="526.5" r="2.2" fill="#050505"/>
<circle cx="635.1" cy="551.5" r="2.2" fill="#050505"/>
<circle cx="641.8" cy="552.5" r="2.2" fill="#050505"/>
<circle cx="641.8" cy="558.1" r="2.2" fill="#050505"/>
<circle cx="648.5" cy="558.1" r="2.2" fill="#050505"/>
<circle cx="635.1" cy="562" r="2.2" fill="#050505"/>
<circle cx="648.5" cy="563" r="2.2" fill="#050505"/>
<circle cx="635.1" cy="567.7" r="2.2" fill="#050505"/>
<circle cx="648.5" cy="569.8" r="2.2" fill="#050505"/>
<circle cx="641.8" cy="573.1" r="2.2" fill="#050505"/>
<circle cx="635.1" cy="577.8" r="2.2" fill="#050505"/>
<circle cx="648.5" cy="576.1" r="2.2" fill="#050505"/>
<line x1="633" y1="561.2" x2="650.6" y2="561.2" stroke="#2a2a2a" stroke-width="1" />
<line x1="668" y1="548.2" x2="668" y2="573.4" stroke="#f07a72" stroke-width="0.8" />
<line x1="663.6" y1="548.2" x2="672.4" y2="548.2" stroke="#f07a72" stroke-width="0.8" />
<line x1="663.6" y1="573.4" x2="672.4" y2="573.4" stroke="#f07a72" stroke-width="0.8" />
<line x1="659.2" y1="560.4" x2="676.8" y2="560.4" stroke="#2a2a2a" stroke-width="1" />
<circle cx="663.7" cy="549.3" r="2.2" fill="#e8291f"/>
<circle cx="672.5" cy="547.2" r="2.2" fill="#e8291f"/>
<circle cx="663.7" cy="559.3" r="2.2" fill="#e8291f"/>
<circle cx="672.5" cy="558" r="2.2" fill="#e8291f"/>
<circle cx="668" cy="571.6" r="2.2" fill="#e8291f"/>
<circle cx="668" cy="578.7" r="2.2" fill="#e8291f"/>
<text x="3.2" y="656.9" font-size="14.5" font-weight="bold" fill="#000" stroke="#000" stroke-width="0.35">f</text>
<circle cx="69.1" cy="652.6" r="2.3" fill="#050505"/>
<text x="76.7" y="655.8" font-size="8.8" text-anchor="start" fill="#1c1c1c" textLength="16.6" lengthAdjust="spacingAndGlyphs">HDs</text>
<circle cx="110.9" cy="652.6" r="2.3" fill="#e8291f"/>
<text x="118.2" y="655.8" font-size="8.8" text-anchor="start" fill="#1c1c1c" textLength="22.9" lengthAdjust="spacingAndGlyphs">P1–P3</text>
<line x1="40.6" y1="665.3" x2="40.6" y2="883.3" stroke="#808080" stroke-width="1" />
<line x1="35" y1="883.1" x2="177.2" y2="883.1" stroke="#808080" stroke-width="1" />
<line x1="34.9" y1="883.1" x2="40.6" y2="883.1" stroke="#808080" stroke-width="0.9" />
<text x="29.6" y="886.4" font-size="9" text-anchor="end" fill="#1c1c1c">0</text>
<line x1="36.9" y1="868.59" x2="40.6" y2="868.59" stroke="#808080" stroke-width="0.9" />
<line x1="36.9" y1="854.09" x2="40.6" y2="854.09" stroke="#808080" stroke-width="0.9" />
<line x1="36.9" y1="839.58" x2="40.6" y2="839.58" stroke="#808080" stroke-width="0.9" />
<line x1="36.9" y1="825.07" x2="40.6" y2="825.07" stroke="#808080" stroke-width="0.9" />
<line x1="34.9" y1="810.57" x2="40.6" y2="810.57" stroke="#808080" stroke-width="0.9" />
<text x="29.6" y="813.87" font-size="9" text-anchor="end" fill="#1c1c1c">10</text>
<line x1="36.9" y1="796.06" x2="40.6" y2="796.06" stroke="#808080" stroke-width="0.9" />
<line x1="36.9" y1="781.55" x2="40.6" y2="781.55" stroke="#808080" stroke-width="0.9" />
<line x1="36.9" y1="767.05" x2="40.6" y2="767.05" stroke="#808080" stroke-width="0.9" />
<line x1="36.9" y1="752.54" x2="40.6" y2="752.54" stroke="#808080" stroke-width="0.9" />
<line x1="34.9" y1="738.03" x2="40.6" y2="738.03" stroke="#808080" stroke-width="0.9" />
<text x="29.6" y="741.33" font-size="9" text-anchor="end" fill="#1c1c1c">20</text>
<line x1="36.9" y1="723.53" x2="40.6" y2="723.53" stroke="#808080" stroke-width="0.9" />
<line x1="36.9" y1="709.02" x2="40.6" y2="709.02" stroke="#808080" stroke-width="0.9" />
<line x1="36.9" y1="694.51" x2="40.6" y2="694.51" stroke="#808080" stroke-width="0.9" />
<line x1="36.9" y1="680.01" x2="40.6" y2="680.01" stroke="#808080" stroke-width="0.9" />
<line x1="34.9" y1="665.5" x2="40.6" y2="665.5" stroke="#808080" stroke-width="0.9" />
<text x="29.6" y="668.8" font-size="9" text-anchor="end" fill="#1c1c1c">30</text>
<text x="13.2" y="774.5" font-size="10.4" text-anchor="middle" fill="#1c1c1c" textLength="182" lengthAdjust="spacingAndGlyphs" transform="rotate(-90 13.2 774.5)">Percentage of positive memory B cells</text>
<line x1="80.7" y1="883.1" x2="80.7" y2="886.6" stroke="#808080" stroke-width="0.9" />
<line x1="149.2" y1="883.1" x2="149.2" y2="886.6" stroke="#808080" stroke-width="0.9" />
<text x="80.7" y="899.6" font-size="9.6" text-anchor="middle" fill="#1c1c1c" textLength="15" lengthAdjust="spacingAndGlyphs">IgA</text>
<text x="149.2" y="899.6" font-size="9.6" text-anchor="middle" fill="#1c1c1c" textLength="15.5" lengthAdjust="spacingAndGlyphs">IgG</text>
<rect x="52" y="753.5" width="21.6" height="129.6" fill="#6e6e6e" stroke="#3c3c3c" stroke-width="0.8"/>
<rect x="87.5" y="817.3" width="20.2" height="65.8" fill="#f07a74" stroke="#3c3c3c" stroke-width="0.8"/>
<rect x="121.4" y="756.1" width="21.3" height="127" fill="#6e6e6e" stroke="#3c3c3c" stroke-width="0.8"/>
<rect x="155.5" y="816" width="21.1" height="67.1" fill="#f07a74" stroke="#3c3c3c" stroke-width="0.8"/>
<line x1="63.1" y1="711.2" x2="63.1" y2="793.9" stroke="#333" stroke-width="0.9" />
<line x1="57.35" y1="711.2" x2="68.85" y2="711.2" stroke="#333" stroke-width="0.9" />
<line x1="57.35" y1="793.9" x2="68.85" y2="793.9" stroke="#333" stroke-width="0.9" />
<line x1="97.7" y1="804.2" x2="97.7" y2="828.6" stroke="#333" stroke-width="0.9" />
<line x1="92.05" y1="804.2" x2="103.35" y2="804.2" stroke="#333" stroke-width="0.9" />
<line x1="92.05" y1="828.6" x2="103.35" y2="828.6" stroke="#333" stroke-width="0.9" />
<line x1="131.9" y1="698.3" x2="131.9" y2="812.3" stroke="#333" stroke-width="0.9" />
<line x1="126.65" y1="698.3" x2="137.15" y2="698.3" stroke="#333" stroke-width="0.9" />
<line x1="126.65" y1="812.3" x2="137.15" y2="812.3" stroke="#333" stroke-width="0.9" />
<line x1="166" y1="808.4" x2="166" y2="821.5" stroke="#333" stroke-width="0.9" />
<line x1="160.5" y1="808.4" x2="171.5" y2="808.4" stroke="#333" stroke-width="0.9" />
<line x1="160.5" y1="821.5" x2="171.5" y2="821.5" stroke="#333" stroke-width="0.9" />
<circle cx="59.1" cy="695.2" r="2.95" fill="#050505"/>
<circle cx="67.5" cy="696.5" r="2.95" fill="#050505"/>
<circle cx="63.1" cy="706.5" r="2.95" fill="#050505"/>
<circle cx="63.1" cy="738.5" r="2.95" fill="#050505"/>
<circle cx="54.7" cy="748.5" r="2.95" fill="#050505"/>
<circle cx="63.1" cy="749" r="2.95" fill="#050505"/>
<circle cx="71.5" cy="746.4" r="2.95" fill="#050505"/>
<circle cx="54.7" cy="758.8" r="2.95" fill="#050505"/>
<circle cx="63.1" cy="760.9" r="2.95" fill="#050505"/>
<circle cx="71.5" cy="758.2" r="2.95" fill="#050505"/>
<circle cx="63.1" cy="768.7" r="2.95" fill="#050505"/>
<circle cx="63.1" cy="816.3" r="2.95" fill="#050505"/>
<circle cx="63.1" cy="838.9" r="2.95" fill="#050505"/>
<circle cx="131.4" cy="678.6" r="2.95" fill="#050505"/>
<circle cx="123.5" cy="690.7" r="2.95" fill="#050505"/>
<circle cx="123.5" cy="698.3" r="2.95" fill="#050505"/>
<circle cx="140" cy="695.7" r="2.95" fill="#050505"/>
<circle cx="131.4" cy="710.9" r="2.95" fill="#050505"/>
<circle cx="131.4" cy="740.1" r="2.95" fill="#050505"/>
<circle cx="131.4" cy="753.5" r="2.95" fill="#050505"/>
<circle cx="131.4" cy="768.7" r="2.95" fill="#050505"/>
<circle cx="131.9" cy="797.6" r="2.95" fill="#050505"/>
<circle cx="123.5" cy="811" r="2.95" fill="#050505"/>
<circle cx="140" cy="811" r="2.95" fill="#050505"/>
<circle cx="131.9" cy="822.8" r="2.95" fill="#050505"/>
<circle cx="131.9" cy="841" r="2.95" fill="#050505"/>
<circle cx="97.7" cy="802.9" r="2.95" fill="#e8291f"/>
<circle cx="89.3" cy="826.5" r="2.95" fill="#e8291f"/>
<circle cx="105.9" cy="820.2" r="2.95" fill="#e8291f"/>
<circle cx="157.6" cy="809.4" r="2.95" fill="#e8291f"/>
<circle cx="166" cy="822" r="2.95" fill="#e8291f"/>
<circle cx="174.2" cy="813.6" r="2.95" fill="#e8291f"/>
<polyline points="63.1,688.1 63.1,678.6 97.7,678.6 97.7,797.4" stroke="#808080" stroke-width="0.9" fill="none"/>
<polygon points="74.3,671.75 75.03,673.39 76.82,673.58 75.48,674.78 75.86,676.54 74.3,675.65 72.74,676.54 73.12,674.78 71.78,673.58 73.57,673.39" fill="#222"/>
<polygon points="80.1,671.75 80.83,673.39 82.62,673.58 81.28,674.78 81.66,676.54 80.1,675.65 78.54,676.54 78.92,674.78 77.58,673.58 79.37,673.39" fill="#222"/>
<polygon points="85.9,671.75 86.63,673.39 88.42,673.58 87.08,674.78 87.46,676.54 85.9,675.65 84.34,676.54 84.72,674.78 83.38,673.58 85.17,673.39" fill="#222"/>
<polyline points="131.4,671.5 131.4,667.1 166.1,667.1 166.1,784.6" stroke="#808080" stroke-width="0.9" fill="none"/>
<polygon points="146.1,660.55 146.83,662.19 148.62,662.38 147.28,663.58 147.66,665.34 146.1,664.45 144.54,665.34 144.92,663.58 143.58,662.38 145.37,662.19" fill="#222"/>
<polygon points="151.9,660.55 152.63,662.19 154.42,662.38 153.08,663.58 153.46,665.34 151.9,664.45 150.34,665.34 150.72,663.58 149.38,662.38 151.17,662.19" fill="#222"/>
<text x="192" y="655.7" font-size="14.5" font-weight="bold" fill="#000" stroke="#000" stroke-width="0.35">g</text>
<line x1="235.5" y1="664.5" x2="235.5" y2="884.4" stroke="#808080" stroke-width="1" />
<line x1="235" y1="884.2" x2="430.9" y2="884.2" stroke="#808080" stroke-width="1" />
<line x1="231" y1="664.9" x2="235.5" y2="664.9" stroke="#808080" stroke-width="0.9" />
<text x="222.4" y="668.1" font-size="8.6" text-anchor="end" fill="#1c1c1c" textLength="8.8" lengthAdjust="spacingAndGlyphs">10</text>
<text x="222.9" y="663.3" font-size="5.6" text-anchor="start" fill="#1c1c1c">0</text>
<line x1="231" y1="729.4" x2="235.5" y2="729.4" stroke="#808080" stroke-width="0.9" />
<text x="220.7" y="732.6" font-size="8.6" text-anchor="end" fill="#1c1c1c" textLength="8.8" lengthAdjust="spacingAndGlyphs">10</text>
<text x="221" y="727.8" font-size="5.6" text-anchor="start" fill="#1c1c1c">−1</text>
<line x1="231" y1="794.2" x2="235.5" y2="794.2" stroke="#808080" stroke-width="0.9" />
<text x="220.7" y="797.4" font-size="8.6" text-anchor="end" fill="#1c1c1c" textLength="8.8" lengthAdjust="spacingAndGlyphs">10</text>
<text x="221" y="792.6" font-size="5.6" text-anchor="start" fill="#1c1c1c">−2</text>
<line x1="231" y1="858.6" x2="235.5" y2="858.6" stroke="#808080" stroke-width="0.9" />
<text x="220.7" y="861.8" font-size="8.6" text-anchor="end" fill="#1c1c1c" textLength="8.8" lengthAdjust="spacingAndGlyphs">10</text>
<text x="221" y="857" font-size="5.6" text-anchor="start" fill="#1c1c1c">−3</text>
<text x="202.0" y="774.7" font-size="10.4" text-anchor="middle" fill="#1c1c1c" transform="rotate(-90 202.0 774.7)" textLength="114.2" lengthAdjust="spacingAndGlyphs">Percent spike<tspan dy="-3.8" font-size="6.5">+</tspan><tspan dy="3.8"> of B cells</tspan></text>
<line x1="236" y1="813.5" x2="430.9" y2="813.5" stroke="#333" stroke-width="0.8" stroke-dasharray="1.6,1.6"/>
<circle cx="246.8" cy="666.8" r="2.2" fill="#050505"/>
<text x="254.7" y="669.4" font-size="8.8" text-anchor="start" fill="#1c1c1c" textLength="16.3" lengthAdjust="spacingAndGlyphs">HDs</text>
<circle cx="246.8" cy="678.2" r="2.2" fill="#e8291f"/>
<text x="254.7" y="680.9" font-size="8.8" text-anchor="start" fill="#1c1c1c" textLength="22.6" lengthAdjust="spacingAndGlyphs">P1–P5</text>
<rect x="243.8" y="821.3" width="13.4" height="62.9" fill="#6e6e6e" stroke="#3c3c3c" stroke-width="0.8"/>
<rect x="263.6" y="835.7" width="12.8" height="48.5" fill="#f07a74" stroke="#3c3c3c" stroke-width="0.8"/>
<rect x="293.3" y="742.1" width="12.8" height="142.1" fill="#6e6e6e" stroke="#3c3c3c" stroke-width="0.8"/>
<rect x="313.1" y="762.9" width="12.8" height="121.3" fill="#f07a74" stroke="#3c3c3c" stroke-width="0.8"/>
<rect x="342.3" y="712" width="13.2" height="172.2" fill="#6e6e6e" stroke="#3c3c3c" stroke-width="0.8"/>
<rect x="361.7" y="759.4" width="12.9" height="124.8" fill="#f07a74" stroke="#3c3c3c" stroke-width="0.8"/>
<rect x="391.5" y="743.7" width="13" height="140.5" fill="#6e6e6e" stroke="#3c3c3c" stroke-width="0.8"/>
<rect x="410.6" y="777" width="13" height="107.2" fill="#f07a74" stroke="#3c3c3c" stroke-width="0.8"/>
<circle cx="250.9" cy="819.7" r="2.95" fill="#050505"/>
<circle cx="295.5" cy="712.6" r="2.95" fill="#050505"/>
<circle cx="304.1" cy="712.6" r="2.95" fill="#050505"/>
<circle cx="299.8" cy="717.8" r="2.95" fill="#050505"/>
<circle cx="295.5" cy="729.2" r="2.95" fill="#050505"/>
<circle cx="299.8" cy="735.2" r="2.95" fill="#050505"/>
<circle cx="299.5" cy="748.7" r="2.95" fill="#050505"/>
<circle cx="304.1" cy="750.5" r="2.95" fill="#050505"/>
<circle cx="299.5" cy="755.4" r="2.95" fill="#050505"/>
<circle cx="299.5" cy="763.1" r="2.95" fill="#050505"/>
<circle cx="299.5" cy="784.7" r="2.95" fill="#050505"/>
<circle cx="350.3" cy="678.1" r="2.95" fill="#050505"/>
<circle cx="346.9" cy="682.9" r="2.95" fill="#050505"/>
<circle cx="350.3" cy="688.4" r="2.95" fill="#050505"/>
<circle cx="346.9" cy="691.7" r="2.95" fill="#050505"/>
<circle cx="350.3" cy="695.7" r="2.95" fill="#050505"/>
<circle cx="347.2" cy="700.5" r="2.95" fill="#050505"/>
<circle cx="350.3" cy="706.7" r="2.95" fill="#050505"/>
<circle cx="346.9" cy="708.3" r="2.95" fill="#050505"/>
<circle cx="344.8" cy="715.5" r="2.95" fill="#050505"/>
<circle cx="347.9" cy="716" r="2.95" fill="#050505"/>
<circle cx="350.3" cy="719.7" r="2.95" fill="#050505"/>
<circle cx="344.3" cy="726.4" r="2.95" fill="#050505"/>
<circle cx="347.9" cy="726.7" r="2.95" fill="#050505"/>
<circle cx="351" cy="726.9" r="2.95" fill="#050505"/>
<circle cx="353.1" cy="729.5" r="2.95" fill="#050505"/>
<circle cx="348.4" cy="756.9" r="2.95" fill="#050505"/>
<circle cx="397.6" cy="719.7" r="2.95" fill="#050505"/>
<circle cx="397.6" cy="729.4" r="2.95" fill="#050505"/>
<circle cx="393.7" cy="744.7" r="2.95" fill="#050505"/>
<circle cx="401.6" cy="748.4" r="2.95" fill="#050505"/>
<circle cx="393.7" cy="752.6" r="2.95" fill="#050505"/>
<circle cx="399.5" cy="752.6" r="2.95" fill="#050505"/>
<circle cx="397.4" cy="750" r="2.95" fill="#050505"/>
<circle cx="270" cy="818.4" r="2.95" fill="#e8291f"/>
<circle cx="270" cy="878.1" r="2.95" fill="#e8291f"/>
<circle cx="318.9" cy="747.6" r="2.95" fill="#e8291f"/>
<circle cx="314.8" cy="754.3" r="2.95" fill="#e8291f"/>
<circle cx="323.1" cy="755.7" r="2.95" fill="#e8291f"/>
<circle cx="318.9" cy="767.1" r="2.95" fill="#e8291f"/>
<circle cx="368" cy="752.1" r="2.95" fill="#e8291f"/>
<circle cx="372.2" cy="759.8" r="2.95" fill="#e8291f"/>
<circle cx="363.8" cy="765" r="2.95" fill="#e8291f"/>
<circle cx="421.1" cy="769.2" r="2.95" fill="#e8291f"/>
<circle cx="416.9" cy="772.1" r="2.95" fill="#e8291f"/>
<circle cx="421.6" cy="775.7" r="2.95" fill="#e8291f"/>
<circle cx="412.7" cy="777.3" r="2.95" fill="#e8291f"/>
<line x1="319" y1="748.1" x2="319" y2="789.2" stroke="rgba(0,0,0,0.42)" stroke-width="0.9" />
<line x1="315.4" y1="748.1" x2="322.6" y2="748.1" stroke="rgba(0,0,0,0.42)" stroke-width="0.9" />
<line x1="315.4" y1="789.2" x2="322.6" y2="789.2" stroke="rgba(0,0,0,0.42)" stroke-width="0.9" />
<line x1="368" y1="752.4" x2="368" y2="765.5" stroke="rgba(0,0,0,0.42)" stroke-width="0.9" />
<line x1="364.3" y1="752.4" x2="371.7" y2="752.4" stroke="rgba(0,0,0,0.42)" stroke-width="0.9" />
<line x1="364.3" y1="765.5" x2="371.7" y2="765.5" stroke="rgba(0,0,0,0.42)" stroke-width="0.9" />
<line x1="417.4" y1="770.5" x2="417.4" y2="777.3" stroke="rgba(0,0,0,0.42)" stroke-width="0.9" />
<line x1="413.9" y1="770.5" x2="420.9" y2="770.5" stroke="rgba(0,0,0,0.42)" stroke-width="0.9" />
<line x1="413.9" y1="777.3" x2="420.9" y2="777.3" stroke="rgba(0,0,0,0.42)" stroke-width="0.9" />
<polyline points="299.5,701.6 299.5,688 319,688 319,728.7" stroke="#808080" stroke-width="0.9" fill="none"/>
<polygon points="309.3,681.35 310.03,682.99 311.82,683.18 310.48,684.38 310.86,686.14 309.3,685.25 307.74,686.14 308.12,684.38 306.78,683.18 308.57,682.99" fill="#222"/>
<polyline points="348.5,671.8 348.5,669.4 368.2,669.4 368.2,749.1" stroke="#808080" stroke-width="0.9" fill="none"/>
<polygon points="355.3,662.95 356.03,664.59 357.82,664.78 356.48,665.98 356.86,667.74 355.3,666.85 353.74,667.74 354.12,665.98 352.78,664.78 354.57,664.59" fill="#222"/>
<polygon points="361.1,662.95 361.83,664.59 363.62,664.78 362.28,665.98 362.66,667.74 361.1,666.85 359.54,667.74 359.92,665.98 358.58,664.78 360.37,664.59" fill="#222"/>
<polyline points="397.6,708.2 397.6,696.1 417.3,696.1 417.3,758.2" stroke="#808080" stroke-width="0.9" fill="none"/>
<polygon points="404.7,689.95 405.43,691.59 407.22,691.78 405.88,692.98 406.26,694.74 404.7,693.85 403.14,694.74 403.52,692.98 402.18,691.78 403.97,691.59" fill="#222"/>
<polygon points="410.5,689.95 411.23,691.59 413.02,691.78 411.68,692.98 412.06,694.74 410.5,693.85 408.94,694.74 409.32,692.98 407.98,691.78 409.77,691.59" fill="#222"/>
<line x1="260.2" y1="884.2" x2="260.2" y2="887.6" stroke="#808080" stroke-width="0.9" />
<text x="260.2" y="900.4" font-size="9.2" text-anchor="middle" fill="#1c1c1c" textLength="12.5" lengthAdjust="spacingAndGlyphs">Pre</text>
<line x1="309.2" y1="884.2" x2="309.2" y2="887.6" stroke="#808080" stroke-width="0.9" />
<text x="309.2" y="900.4" font-size="9.2" text-anchor="middle" fill="#1c1c1c" textLength="31.9" lengthAdjust="spacingAndGlyphs">4–10 wk</text>
<line x1="358.2" y1="884.2" x2="358.2" y2="887.6" stroke="#808080" stroke-width="0.9" />
<text x="358.2" y="900.4" font-size="9.2" text-anchor="middle" fill="#1c1c1c" textLength="37" lengthAdjust="spacingAndGlyphs">6–12 mo</text>
<line x1="407.6" y1="884.2" x2="407.6" y2="887.6" stroke="#808080" stroke-width="0.9" />
<text x="407.6" y="900.4" font-size="9.2" text-anchor="middle" fill="#1c1c1c" textLength="20.5" lengthAdjust="spacingAndGlyphs">2 yrs</text>
<text x="256.6" y="916.2" font-size="10.2" text-anchor="start" fill="#1c1c1c" textLength="153.1" lengthAdjust="spacingAndGlyphs">Time since second vaccine dose</text>
<text x="434.4" y="656.6" font-size="14.5" font-weight="bold" fill="#000" stroke="#000" stroke-width="0.35">h</text>
<line x1="472.9" y1="664.4" x2="472.9" y2="884.7" stroke="#808080" stroke-width="1" />
<line x1="472.6" y1="884.5" x2="683" y2="884.5" stroke="#808080" stroke-width="1" />
<line x1="468.3" y1="693.1" x2="472.9" y2="693.1" stroke="#808080" stroke-width="0.9" />
<text x="463.7" y="696.3" font-size="8.8" text-anchor="end" fill="#1c1c1c">100</text>
<line x1="468.3" y1="741" x2="472.9" y2="741" stroke="#808080" stroke-width="0.9" />
<text x="463.7" y="744.2" font-size="8.8" text-anchor="end" fill="#1c1c1c">75</text>
<line x1="468.3" y1="788.8" x2="472.9" y2="788.8" stroke="#808080" stroke-width="0.9" />
<text x="463.7" y="792" font-size="8.8" text-anchor="end" fill="#1c1c1c">50</text>
<line x1="468.3" y1="836.6" x2="472.9" y2="836.6" stroke="#808080" stroke-width="0.9" />
<text x="463.7" y="839.8" font-size="8.8" text-anchor="end" fill="#1c1c1c">25</text>
<line x1="468.3" y1="884.5" x2="472.9" y2="884.5" stroke="#808080" stroke-width="0.9" />
<text x="463.7" y="887.7" font-size="8.8" text-anchor="end" fill="#1c1c1c">0</text>
<text x="445.2" y="775" font-size="10.4" text-anchor="middle" fill="#1c1c1c" textLength="100.5" lengthAdjust="spacingAndGlyphs" transform="rotate(-90 445.2 775)">Percentage of B cells</text>
<rect x="485.2" y="694.1" width="20.2" height="38.2" fill="#fff" stroke="#555" stroke-width="0.8"/>
<rect x="485.2" y="732.3" width="20.2" height="13.9" fill="#c4c4c4" stroke="#555" stroke-width="0.8"/>
<rect x="485.2" y="746.2" width="20.2" height="138.3" fill="#000" stroke="#555" stroke-width="0.8"/>
<rect x="518.6" y="696.5" width="20.6" height="98" fill="#fff" stroke="#555" stroke-width="0.8"/>
<rect x="518.6" y="794.5" width="20.6" height="23.8" fill="#c4c4c4" stroke="#555" stroke-width="0.8"/>
<rect x="518.6" y="818.3" width="20.6" height="66.2" fill="#000" stroke="#555" stroke-width="0.8"/>
<rect x="552.3" y="694.7" width="20.2" height="17.7" fill="#fff" stroke="#555" stroke-width="0.8"/>
<rect x="552.3" y="712.4" width="20.2" height="17.6" fill="#c4c4c4" stroke="#555" stroke-width="0.8"/>
<rect x="552.3" y="730" width="20.2" height="154.5" fill="#000" stroke="#555" stroke-width="0.8"/>
<rect x="585.5" y="695.6" width="20.4" height="57.7" fill="#fff" stroke="#555" stroke-width="0.8"/>
<rect x="585.5" y="753.3" width="20.4" height="27.7" fill="#c4c4c4" stroke="#555" stroke-width="0.8"/>
<rect x="585.5" y="781" width="20.4" height="103.5" fill="#000" stroke="#555" stroke-width="0.8"/>
<rect x="618.9" y="694.1" width="20.7" height="43.1" fill="#fff" stroke="#555" stroke-width="0.8"/>
<rect x="618.9" y="737.2" width="20.7" height="7.7" fill="#c4c4c4" stroke="#555" stroke-width="0.8"/>
<rect x="618.9" y="744.9" width="20.7" height="139.6" fill="#000" stroke="#555" stroke-width="0.8"/>
<rect x="652.6" y="690.3" width="20.4" height="119.5" fill="#fff" stroke="#555" stroke-width="0.8"/>
<rect x="652.6" y="809.8" width="20.4" height="9.7" fill="#c4c4c4" stroke="#555" stroke-width="0.8"/>
<rect x="652.6" y="819.5" width="20.4" height="65" fill="#000" stroke="#555" stroke-width="0.8"/>
<line x1="495.3" y1="681" x2="495.3" y2="706.5" stroke="#3a3a3a" stroke-width="0.9" />
<line x1="489.8" y1="681" x2="500.8" y2="681" stroke="#3a3a3a" stroke-width="0.9" />
<line x1="489.8" y1="706.5" x2="500.8" y2="706.5" stroke="#3a3a3a" stroke-width="0.9" />
<line x1="495.3" y1="727.5" x2="495.3" y2="746.5" stroke="#3a3a3a" stroke-width="0.9" />
<line x1="489.8" y1="727.5" x2="500.8" y2="727.5" stroke="#3a3a3a" stroke-width="0.9" />
<line x1="489.8" y1="735.4" x2="500.8" y2="735.4" stroke="#3a3a3a" stroke-width="0.9" />
<line x1="528.9" y1="677.8" x2="528.9" y2="713.5" stroke="#3a3a3a" stroke-width="0.9" />
<line x1="523.4" y1="677.8" x2="534.4" y2="677.8" stroke="#3a3a3a" stroke-width="0.9" />
<line x1="523.4" y1="713.5" x2="534.4" y2="713.5" stroke="#3a3a3a" stroke-width="0.9" />
<line x1="528.7" y1="785.7" x2="528.7" y2="817.4" stroke="#3a3a3a" stroke-width="0.9" />
<line x1="523.2" y1="785.7" x2="534.2" y2="785.7" stroke="#3a3a3a" stroke-width="0.9" />
<line x1="524.2" y1="795.2" x2="533.2" y2="795.2" stroke="#3a3a3a" stroke-width="0.9" />
<line x1="523.2" y1="800.2" x2="534.2" y2="800.2" stroke="#3a3a3a" stroke-width="0.9" />
<line x1="562.3" y1="688.4" x2="562.3" y2="699.5" stroke="#3a3a3a" stroke-width="0.9" />
<line x1="562.3" y1="703.3" x2="562.3" y2="730" stroke="#3a3a3a" stroke-width="0.9" />
<line x1="556.55" y1="688.4" x2="568.05" y2="688.4" stroke="#3a3a3a" stroke-width="0.9" />
<line x1="556.55" y1="699.5" x2="568.05" y2="699.5" stroke="#3a3a3a" stroke-width="0.9" />
<line x1="556.55" y1="703.3" x2="568.05" y2="703.3" stroke="#3a3a3a" stroke-width="0.9" />
<line x1="556.55" y1="720.5" x2="568.05" y2="720.5" stroke="#3a3a3a" stroke-width="0.9" />
<line x1="595.7" y1="675.6" x2="595.7" y2="714.1" stroke="#3a3a3a" stroke-width="0.9" />
<line x1="590.2" y1="675.6" x2="601.2" y2="675.6" stroke="#3a3a3a" stroke-width="0.9" />
<line x1="590.2" y1="714.1" x2="601.2" y2="714.1" stroke="#3a3a3a" stroke-width="0.9" />
<line x1="595.7" y1="750.9" x2="595.7" y2="781" stroke="#3a3a3a" stroke-width="0.9" />
<line x1="590.2" y1="750.9" x2="601.2" y2="750.9" stroke="#3a3a3a" stroke-width="0.9" />
<line x1="590.2" y1="754.6" x2="601.2" y2="754.6" stroke="#3a3a3a" stroke-width="0.9" />
<line x1="590.2" y1="757.8" x2="601.2" y2="757.8" stroke="#3a3a3a" stroke-width="0.9" />
<line x1="629.3" y1="685.5" x2="629.3" y2="700.8" stroke="#3a3a3a" stroke-width="0.9" />
<line x1="623.8" y1="685.5" x2="634.8" y2="685.5" stroke="#3a3a3a" stroke-width="0.9" />
<line x1="623.8" y1="700.8" x2="634.8" y2="700.8" stroke="#3a3a3a" stroke-width="0.9" />
<line x1="629.3" y1="733.4" x2="629.3" y2="744.9" stroke="#3a3a3a" stroke-width="0.9" />
<line x1="623.8" y1="733.4" x2="634.8" y2="733.4" stroke="#3a3a3a" stroke-width="0.9" />
<line x1="623.8" y1="737.7" x2="634.8" y2="737.7" stroke="#3a3a3a" stroke-width="0.9" />
<line x1="623.8" y1="740.1" x2="634.8" y2="740.1" stroke="#3a3a3a" stroke-width="0.9" />
<line x1="662.5" y1="671.9" x2="662.5" y2="706.7" stroke="#3a3a3a" stroke-width="0.9" />
<line x1="657" y1="671.9" x2="668" y2="671.9" stroke="#3a3a3a" stroke-width="0.9" />
<line x1="657" y1="706.7" x2="668" y2="706.7" stroke="#3a3a3a" stroke-width="0.9" />
<line x1="662.3" y1="802.4" x2="662.3" y2="819.5" stroke="#3a3a3a" stroke-width="0.9" />
<line x1="656.8" y1="802.4" x2="667.8" y2="802.4" stroke="#3a3a3a" stroke-width="0.9" />
<line x1="656.8" y1="810.2" x2="667.8" y2="810.2" stroke="#3a3a3a" stroke-width="0.9" />
<line x1="656.8" y1="814" x2="667.8" y2="814" stroke="#3a3a3a" stroke-width="0.9" />
<text x="540.6" y="813.1" font-size="8.2" text-anchor="start" fill="#1c1c1c" textLength="9.5" lengthAdjust="spacingAndGlyphs">NS</text>
<text x="607.5" y="771.8" font-size="8.2" text-anchor="start" fill="#1c1c1c" textLength="9.5" lengthAdjust="spacingAndGlyphs">NS</text>
<text x="674" y="818.9" font-size="8.2" text-anchor="start" fill="#1c1c1c" textLength="9.5" lengthAdjust="spacingAndGlyphs">NS</text>
<polygon points="545.6,852.6 546.31,854.23 548.07,854.4 546.74,855.57 547.13,857.3 545.6,856.4 544.07,857.3 544.46,855.57 543.13,854.4 544.89,854.23" fill="#111"/>
<polygon points="612.3,838.6 613.01,840.23 614.77,840.4 613.44,841.57 613.83,843.3 612.3,842.4 610.77,843.3 611.16,841.57 609.83,840.4 611.59,840.23" fill="#111"/>
<polygon points="679.4,852.6 680.11,854.23 681.87,854.4 680.54,855.57 680.93,857.3 679.4,856.4 677.87,857.3 678.26,855.57 676.93,854.4 678.69,854.23" fill="#111"/>
<rect x="501.5" y="661.2" width="8.4" height="8.3" fill="#fff" stroke="#555" stroke-width="0.8"/>
<text x="515.8" y="668.8" font-size="8.8" fill="#1c1c1c">IgG<tspan dy="-3.4" font-size="5.6">−</tspan><tspan dy="3.4">IgA</tspan><tspan dy="-3.4" font-size="5.6">−</tspan></text>
<rect x="564.4" y="661.2" width="8.4" height="8.3" fill="#c4c4c4" stroke="#555" stroke-width="0.8"/>
<text x="578.5" y="668.8" font-size="8.8" fill="#1c1c1c">IgA<tspan dy="-3.4" font-size="5.6">+</tspan></text>
<rect x="612.5" y="661.2" width="8.8" height="8.3" fill="#000" stroke="#555" stroke-width="0.8"/>
<text x="626.7" y="668.8" font-size="8.8" fill="#1c1c1c">IgG<tspan dy="-3.4" font-size="5.6">+</tspan></text>
<text x="495.5" y="900.3" font-size="8.6" text-anchor="middle" fill="#1c1c1c">HD</text>
<text x="529" y="900.3" font-size="8.6" text-anchor="middle" fill="#1c1c1c">P1–P5</text>
<text x="562" y="900.3" font-size="8.6" text-anchor="middle" fill="#1c1c1c">HD</text>
<text x="595.7" y="900.3" font-size="8.6" text-anchor="middle" fill="#1c1c1c">P1–P5</text>
<text x="629.3" y="900.3" font-size="8.6" text-anchor="middle" fill="#1c1c1c">HD</text>
<text x="662.8" y="900.3" font-size="8.6" text-anchor="middle" fill="#1c1c1c">P1–P5</text>
<text x="512.3" y="915.5" font-size="10.2" text-anchor="middle" fill="#1c1c1c" textLength="37.7" lengthAdjust="spacingAndGlyphs">4–10 wk</text>
<text x="577.5" y="915.5" font-size="10.2" text-anchor="middle" fill="#1c1c1c" textLength="39.2" lengthAdjust="spacingAndGlyphs">6–12 mo</text>
<text x="642.6" y="915.5" font-size="10.2" text-anchor="middle" fill="#1c1c1c" textLength="22" lengthAdjust="spacingAndGlyphs">2 yrs</text>
</svg></body></html>
